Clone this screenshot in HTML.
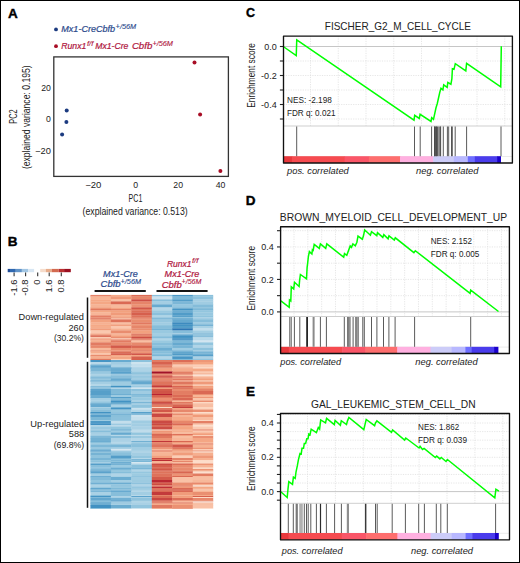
<!DOCTYPE html>
<html><head><meta charset="utf-8"><title>Figure</title>
<style>
html,body{margin:0;padding:0;background:#fff;}
body{width:520px;height:563px;overflow:hidden;}
svg{display:block;font-family:"Liberation Sans", sans-serif;}
</style></head>
<body>
<svg width="520" height="563" viewBox="0 0 520 563">
<rect x="0" y="0" width="520" height="563" fill="#fff"/>
<text x="8.00" y="17.80" font-size="13.5" fill="#000" font-weight="bold" stroke="#000" stroke-width="0.4">A</text>
<circle cx="56" cy="29.4" r="1.9" fill="#1c3b80"/>
<text x="61.30" y="31.90" font-size="9" fill="#2c4a8c" font-style="italic" textLength="53.80" lengthAdjust="spacingAndGlyphs" stroke="#2c4a8c" stroke-width="0.22">Mx1-CreCbfb</text>
<text x="115.60" y="29.00" font-size="6.6" fill="#2c4a8c" font-style="italic" textLength="20.60" lengthAdjust="spacingAndGlyphs" stroke="#2c4a8c" stroke-width="0.12">+/56M</text>
<circle cx="56" cy="46.2" r="1.9" fill="#a80d25"/>
<text x="61.30" y="48.80" font-size="9" fill="#b0183f" font-style="italic" textLength="25.00" lengthAdjust="spacingAndGlyphs" stroke="#b0183f" stroke-width="0.22">Runx1</text>
<text x="86.90" y="45.60" font-size="6.8" fill="#b0183f" font-style="italic" textLength="6.40" lengthAdjust="spacingAndGlyphs" stroke="#b0183f" stroke-width="0.12">f/f</text>
<text x="95.20" y="48.80" font-size="9" fill="#b0183f" font-style="italic" textLength="33.20" lengthAdjust="spacingAndGlyphs" stroke="#b0183f" stroke-width="0.22">Mx1-Cre</text>
<text x="131.90" y="48.80" font-size="9" fill="#b0183f" font-style="italic" textLength="20.40" lengthAdjust="spacingAndGlyphs" stroke="#b0183f" stroke-width="0.22">Cbfb</text>
<text x="152.40" y="45.70" font-size="6.6" fill="#b0183f" font-style="italic" textLength="20.60" lengthAdjust="spacingAndGlyphs" stroke="#b0183f" stroke-width="0.12">+/56M</text>
<rect x="53.8" y="56.9" width="174.6" height="119.5" fill="none" stroke="#333" stroke-width="1.3"/>
<text x="50.90" y="90.80" font-size="8.7" fill="#222" text-anchor="end">20</text>
<text x="50.90" y="122.20" font-size="8.7" fill="#222" text-anchor="end">0</text>
<text x="50.90" y="153.90" font-size="8.7" fill="#222" text-anchor="end" textLength="15.80" lengthAdjust="spacingAndGlyphs">−20</text>
<text x="93.30" y="187.80" font-size="8.7" fill="#222" text-anchor="middle" textLength="16.20" lengthAdjust="spacingAndGlyphs">−20</text>
<text x="135.60" y="187.80" font-size="8.7" fill="#222" text-anchor="middle">0</text>
<text x="178.20" y="187.80" font-size="8.7" fill="#222" text-anchor="middle">20</text>
<text x="220.50" y="187.80" font-size="8.7" fill="#222" text-anchor="middle">40</text>
<text x="128.60" y="202.20" font-size="10.6" fill="#222" textLength="13.70" lengthAdjust="spacingAndGlyphs">PC1</text>
<text x="82.60" y="215.00" font-size="10.4" fill="#222" textLength="105.10" lengthAdjust="spacingAndGlyphs">(explained variance: 0.513)</text>
<text x="16.80" y="123.70" font-size="10.6" fill="#222" textLength="14.30" lengthAdjust="spacingAndGlyphs" transform="rotate(-90 16.80 123.70)">PC2</text>
<text x="29.80" y="169.10" font-size="10.6" fill="#222" textLength="103.70" lengthAdjust="spacingAndGlyphs" transform="rotate(-90 29.80 169.10)">(explained variance: 0.195)</text>
<circle cx="66.7" cy="110.6" r="2.0" fill="#1c3b80"/>
<circle cx="66.4" cy="121.9" r="2.0" fill="#1c3b80"/>
<circle cx="62.1" cy="134.6" r="2.0" fill="#1c3b80"/>
<circle cx="194.5" cy="62.5" r="2.0" fill="#a80d25"/>
<circle cx="200.1" cy="114.6" r="2.0" fill="#a80d25"/>
<circle cx="220.4" cy="171.1" r="2.0" fill="#a80d25"/>
<text x="7.70" y="246.00" font-size="13.5" fill="#000" font-weight="bold" stroke="#000" stroke-width="0.4">B</text>
<rect x="7.70" y="268.90" width="2.30" height="3.30" fill="#1f4c98" />
<rect x="10.00" y="268.90" width="5.80" height="3.30" fill="#2f68b0" />
<rect x="15.80" y="268.90" width="6.10" height="3.30" fill="#6093c8" />
<rect x="21.90" y="268.90" width="6.20" height="3.30" fill="#a2c6e3" />
<rect x="28.10" y="268.90" width="6.00" height="3.30" fill="#d7e6f3" />
<rect x="40.20" y="268.90" width="5.60" height="3.30" fill="#f6dccb" />
<rect x="45.80" y="268.90" width="6.00" height="3.30" fill="#e8ad8c" />
<rect x="51.80" y="268.90" width="6.90" height="3.30" fill="#d36a50" />
<rect x="58.70" y="268.90" width="5.40" height="3.30" fill="#bb3030" />
<rect x="64.10" y="268.90" width="6.70" height="3.30" fill="#9b0f20" />
<line x1="14.10" y1="272.40" x2="14.10" y2="276.20" stroke="#333" stroke-width="1.1" />
<line x1="25.60" y1="272.40" x2="25.60" y2="276.20" stroke="#333" stroke-width="1.1" />
<line x1="37.70" y1="272.40" x2="37.70" y2="276.20" stroke="#333" stroke-width="1.1" />
<line x1="49.20" y1="272.40" x2="49.20" y2="276.20" stroke="#333" stroke-width="1.1" />
<line x1="61.30" y1="272.40" x2="61.30" y2="276.20" stroke="#333" stroke-width="1.1" />
<text x="16.80" y="279.50" font-size="9.4" fill="#222" text-anchor="end" transform="rotate(-90 16.80 279.50)">-1.6</text>
<text x="28.30" y="279.50" font-size="9.4" fill="#222" text-anchor="end" transform="rotate(-90 28.30 279.50)">-0.8</text>
<text x="40.40" y="279.50" font-size="9.4" fill="#222" text-anchor="end" transform="rotate(-90 40.40 279.50)">0</text>
<text x="51.90" y="279.50" font-size="9.4" fill="#222" text-anchor="end" transform="rotate(-90 51.90 279.50)">1.6</text>
<text x="64.00" y="279.50" font-size="9.4" fill="#222" text-anchor="end" transform="rotate(-90 64.00 279.50)">0.8</text>
<text x="103.10" y="277.10" font-size="9" fill="#2c4a8c" font-style="italic" textLength="34.80" lengthAdjust="spacingAndGlyphs" stroke="#2c4a8c" stroke-width="0.22">Mx1-Cre</text>
<text x="100.60" y="287.20" font-size="9" fill="#2c4a8c" font-style="italic" textLength="20.00" lengthAdjust="spacingAndGlyphs" stroke="#2c4a8c" stroke-width="0.22">Cbfb</text>
<text x="120.60" y="283.90" font-size="6.6" fill="#2c4a8c" font-style="italic" textLength="20.40" lengthAdjust="spacingAndGlyphs" stroke="#2c4a8c" stroke-width="0.12">+/56M</text>
<text x="166.90" y="266.70" font-size="9" fill="#b0183f" font-style="italic" textLength="24.60" lengthAdjust="spacingAndGlyphs" stroke="#b0183f" stroke-width="0.22">Runx1</text>
<text x="191.90" y="263.00" font-size="6.9" fill="#b0183f" font-style="italic" textLength="6.60" lengthAdjust="spacingAndGlyphs" stroke="#b0183f" stroke-width="0.12">f/f</text>
<text x="164.60" y="277.10" font-size="9" fill="#b0183f" font-style="italic" textLength="34.80" lengthAdjust="spacingAndGlyphs" stroke="#b0183f" stroke-width="0.22">Mx1-Cre</text>
<text x="161.70" y="287.50" font-size="9" fill="#b0183f" font-style="italic" textLength="20.00" lengthAdjust="spacingAndGlyphs" stroke="#b0183f" stroke-width="0.22">Cbfb</text>
<text x="181.60" y="284.20" font-size="6.6" fill="#b0183f" font-style="italic" textLength="19.80" lengthAdjust="spacingAndGlyphs" stroke="#b0183f" stroke-width="0.12">+/56M</text>
<line x1="94.60" y1="291.00" x2="145.80" y2="291.00" stroke="#151515" stroke-width="1.8" />
<line x1="156.50" y1="291.00" x2="207.60" y2="291.00" stroke="#151515" stroke-width="1.8" />
<text x="83.90" y="319.80" font-size="9.25" fill="#222" text-anchor="end" textLength="65.30" lengthAdjust="spacingAndGlyphs">Down-regulated</text>
<text x="83.90" y="330.50" font-size="9.25" fill="#222" text-anchor="end">260</text>
<text x="83.90" y="340.80" font-size="9.25" fill="#222" text-anchor="end" textLength="30.00" lengthAdjust="spacingAndGlyphs">(30.2%)</text>
<text x="84.20" y="427.10" font-size="9.25" fill="#222" text-anchor="end" textLength="53.90" lengthAdjust="spacingAndGlyphs">Up-regulated</text>
<text x="84.20" y="437.40" font-size="9.25" fill="#222" text-anchor="end">588</text>
<text x="84.20" y="448.00" font-size="9.25" fill="#222" text-anchor="end" textLength="30.50" lengthAdjust="spacingAndGlyphs">(69.8%)</text>
<line x1="87.50" y1="297.50" x2="87.50" y2="357.80" stroke="#111" stroke-width="1.5" />
<line x1="87.50" y1="361.80" x2="87.50" y2="507.80" stroke="#111" stroke-width="1.5" />
<rect x="90.40" y="294.90" width="20.77" height="1.80" fill="#e58167" />
<rect x="110.87" y="294.90" width="20.77" height="1.80" fill="#f5a886" />
<rect x="131.33" y="294.90" width="20.77" height="1.80" fill="#db6b55" />
<rect x="151.80" y="294.90" width="20.77" height="1.80" fill="#8cc1dc" />
<rect x="172.27" y="294.90" width="20.77" height="1.80" fill="#4b98c6" />
<rect x="192.73" y="294.90" width="20.47" height="1.80" fill="#8cc1dc" />
<rect x="90.40" y="296.40" width="20.77" height="3.30" fill="#f7b596" />
<rect x="110.87" y="296.40" width="20.77" height="3.30" fill="#ef9979" />
<rect x="131.33" y="296.40" width="20.77" height="3.30" fill="#e7876b" />
<rect x="151.80" y="296.40" width="20.77" height="3.30" fill="#cce2ef" />
<rect x="172.27" y="296.40" width="20.77" height="3.30" fill="#7db8d7" />
<rect x="192.73" y="296.40" width="20.47" height="3.30" fill="#8ec2dd" />
<rect x="90.40" y="299.40" width="20.77" height="2.30" fill="#f5a886" />
<rect x="110.87" y="299.40" width="20.77" height="2.30" fill="#f8c0a4" />
<rect x="131.33" y="299.40" width="20.77" height="2.30" fill="#cd4f45" />
<rect x="151.80" y="299.40" width="20.77" height="2.30" fill="#87beda" />
<rect x="172.27" y="299.40" width="20.77" height="2.30" fill="#539dc8" />
<rect x="192.73" y="299.40" width="20.47" height="2.30" fill="#a4cee3" />
<rect x="90.40" y="301.40" width="20.77" height="3.30" fill="#f4a785" />
<rect x="110.87" y="301.40" width="20.77" height="3.30" fill="#da6954" />
<rect x="131.33" y="301.40" width="20.77" height="3.30" fill="#e68469" />
<rect x="151.80" y="301.40" width="20.77" height="3.30" fill="#a4cee3" />
<rect x="172.27" y="301.40" width="20.77" height="3.30" fill="#7cb7d7" />
<rect x="192.73" y="301.40" width="20.47" height="3.30" fill="#a0cce2" />
<rect x="90.40" y="304.40" width="20.77" height="3.30" fill="#f6b394" />
<rect x="110.87" y="304.40" width="20.77" height="3.30" fill="#f7b99c" />
<rect x="131.33" y="304.40" width="20.77" height="3.30" fill="#eb9173" />
<rect x="151.80" y="304.40" width="20.77" height="3.30" fill="#67aacf" />
<rect x="172.27" y="304.40" width="20.77" height="3.30" fill="#94c6df" />
<rect x="192.73" y="304.40" width="20.47" height="3.30" fill="#84bcd9" />
<rect x="90.40" y="307.40" width="20.77" height="1.80" fill="#ef9979" />
<rect x="110.87" y="307.40" width="20.77" height="1.80" fill="#f5aa88" />
<rect x="131.33" y="307.40" width="20.77" height="1.80" fill="#d05447" />
<rect x="151.80" y="307.40" width="20.77" height="1.80" fill="#b6d7e8" />
<rect x="172.27" y="307.40" width="20.77" height="1.80" fill="#76b3d4" />
<rect x="192.73" y="307.40" width="20.47" height="1.80" fill="#89bfdb" />
<rect x="90.40" y="308.90" width="20.77" height="1.80" fill="#e0785f" />
<rect x="110.87" y="308.90" width="20.77" height="1.80" fill="#e58368" />
<rect x="131.33" y="308.90" width="20.77" height="1.80" fill="#e0765e" />
<rect x="151.80" y="308.90" width="20.77" height="1.80" fill="#b3d6e7" />
<rect x="172.27" y="308.90" width="20.77" height="1.80" fill="#4594c4" />
<rect x="192.73" y="308.90" width="20.47" height="1.80" fill="#7db8d7" />
<rect x="90.40" y="310.40" width="20.77" height="2.30" fill="#f4a885" />
<rect x="110.87" y="310.40" width="20.77" height="2.30" fill="#f2a27f" />
<rect x="131.33" y="310.40" width="20.77" height="2.30" fill="#dc6d57" />
<rect x="151.80" y="310.40" width="20.77" height="2.30" fill="#9ac9e0" />
<rect x="172.27" y="310.40" width="20.77" height="2.30" fill="#6bacd1" />
<rect x="192.73" y="310.40" width="20.47" height="2.30" fill="#93c6de" />
<rect x="90.40" y="312.40" width="20.77" height="3.30" fill="#f7b597" />
<rect x="110.87" y="312.40" width="20.77" height="3.30" fill="#f09b7a" />
<rect x="131.33" y="312.40" width="20.77" height="3.30" fill="#d65f4d" />
<rect x="151.80" y="312.40" width="20.77" height="3.30" fill="#8bc0dc" />
<rect x="172.27" y="312.40" width="20.77" height="3.30" fill="#519cc8" />
<rect x="192.73" y="312.40" width="20.47" height="3.30" fill="#98c8e0" />
<rect x="90.40" y="315.40" width="20.77" height="2.30" fill="#e47f65" />
<rect x="110.87" y="315.40" width="20.77" height="2.30" fill="#f5ad8c" />
<rect x="131.33" y="315.40" width="20.77" height="2.30" fill="#de725b" />
<rect x="151.80" y="315.40" width="20.77" height="2.30" fill="#afd4e6" />
<rect x="172.27" y="315.40" width="20.77" height="2.30" fill="#59a1ca" />
<rect x="192.73" y="315.40" width="20.47" height="2.30" fill="#8fc3dd" />
<rect x="90.40" y="317.40" width="20.77" height="1.30" fill="#e98d6f" />
<rect x="110.87" y="317.40" width="20.77" height="1.30" fill="#ea8e70" />
<rect x="131.33" y="317.40" width="20.77" height="1.30" fill="#df745c" />
<rect x="151.80" y="317.40" width="20.77" height="1.30" fill="#83bcd9" />
<rect x="172.27" y="317.40" width="20.77" height="1.30" fill="#95c7df" />
<rect x="192.73" y="317.40" width="20.47" height="1.30" fill="#abd2e5" />
<rect x="90.40" y="318.40" width="20.77" height="1.30" fill="#d96752" />
<rect x="110.87" y="318.40" width="20.77" height="1.30" fill="#f9c3a9" />
<rect x="131.33" y="318.40" width="20.77" height="1.30" fill="#e6866a" />
<rect x="151.80" y="318.40" width="20.77" height="1.30" fill="#6dadd1" />
<rect x="172.27" y="318.40" width="20.77" height="1.30" fill="#4b98c6" />
<rect x="192.73" y="318.40" width="20.47" height="1.30" fill="#8bc1dc" />
<rect x="90.40" y="319.40" width="20.77" height="3.30" fill="#f2a17f" />
<rect x="110.87" y="319.40" width="20.77" height="3.30" fill="#de735b" />
<rect x="131.33" y="319.40" width="20.77" height="3.30" fill="#e98d6f" />
<rect x="151.80" y="319.40" width="20.77" height="3.30" fill="#97c7df" />
<rect x="172.27" y="319.40" width="20.77" height="3.30" fill="#65a9cf" />
<rect x="192.73" y="319.40" width="20.47" height="3.30" fill="#86bdda" />
<rect x="90.40" y="322.40" width="20.77" height="2.30" fill="#f6b091" />
<rect x="110.87" y="322.40" width="20.77" height="2.30" fill="#f8bea2" />
<rect x="131.33" y="322.40" width="20.77" height="2.30" fill="#e17960" />
<rect x="151.80" y="322.40" width="20.77" height="2.30" fill="#a0cce2" />
<rect x="172.27" y="322.40" width="20.77" height="2.30" fill="#3d8bbf" />
<rect x="192.73" y="322.40" width="20.47" height="2.30" fill="#9ccae1" />
<rect x="90.40" y="324.40" width="20.77" height="1.80" fill="#f5a987" />
<rect x="110.87" y="324.40" width="20.77" height="1.80" fill="#f09c7b" />
<rect x="131.33" y="324.40" width="20.77" height="1.80" fill="#ed9576" />
<rect x="151.80" y="324.40" width="20.77" height="1.80" fill="#94c6de" />
<rect x="172.27" y="324.40" width="20.77" height="1.80" fill="#4292c2" />
<rect x="192.73" y="324.40" width="20.47" height="1.80" fill="#71b0d3" />
<rect x="90.40" y="325.90" width="20.77" height="2.80" fill="#f5ad8c" />
<rect x="110.87" y="325.90" width="20.77" height="2.80" fill="#fac7ae" />
<rect x="131.33" y="325.90" width="20.77" height="2.80" fill="#e6866a" />
<rect x="151.80" y="325.90" width="20.77" height="2.80" fill="#87beda" />
<rect x="172.27" y="325.90" width="20.77" height="2.80" fill="#539dc8" />
<rect x="192.73" y="325.90" width="20.47" height="2.80" fill="#a7d0e4" />
<rect x="90.40" y="328.40" width="20.77" height="2.30" fill="#f19d7c" />
<rect x="110.87" y="328.40" width="20.77" height="2.30" fill="#f6b292" />
<rect x="131.33" y="328.40" width="20.77" height="2.30" fill="#e98d6f" />
<rect x="151.80" y="328.40" width="20.77" height="2.30" fill="#75b3d4" />
<rect x="172.27" y="328.40" width="20.77" height="2.30" fill="#2d76b4" />
<rect x="192.73" y="328.40" width="20.47" height="2.30" fill="#c2ddec" />
<rect x="90.40" y="330.40" width="20.77" height="3.30" fill="#fac8af" />
<rect x="110.87" y="330.40" width="20.77" height="3.30" fill="#e98d6f" />
<rect x="131.33" y="330.40" width="20.77" height="3.30" fill="#f2a17f" />
<rect x="151.80" y="330.40" width="20.77" height="3.30" fill="#99c9e0" />
<rect x="172.27" y="330.40" width="20.77" height="3.30" fill="#86bdda" />
<rect x="192.73" y="330.40" width="20.47" height="3.30" fill="#a2cde2" />
<rect x="90.40" y="333.40" width="20.77" height="1.30" fill="#f5aa88" />
<rect x="110.87" y="333.40" width="20.77" height="1.30" fill="#f7b698" />
<rect x="131.33" y="333.40" width="20.77" height="1.30" fill="#e98b6e" />
<rect x="151.80" y="333.40" width="20.77" height="1.30" fill="#99c8e0" />
<rect x="172.27" y="333.40" width="20.77" height="1.30" fill="#a8d0e4" />
<rect x="192.73" y="333.40" width="20.47" height="1.30" fill="#78b4d5" />
<rect x="90.40" y="334.40" width="20.77" height="1.30" fill="#ed9475" />
<rect x="110.87" y="334.40" width="20.77" height="1.30" fill="#f5a886" />
<rect x="131.33" y="334.40" width="20.77" height="1.30" fill="#d6614d" />
<rect x="151.80" y="334.40" width="20.77" height="1.30" fill="#96c7df" />
<rect x="172.27" y="334.40" width="20.77" height="1.30" fill="#5da4cc" />
<rect x="192.73" y="334.40" width="20.47" height="1.30" fill="#8dc2dc" />
<rect x="90.40" y="335.40" width="20.77" height="1.80" fill="#da6954" />
<rect x="110.87" y="335.40" width="20.77" height="1.80" fill="#f3a27f" />
<rect x="131.33" y="335.40" width="20.77" height="1.80" fill="#e58368" />
<rect x="151.80" y="335.40" width="20.77" height="1.80" fill="#95c7df" />
<rect x="172.27" y="335.40" width="20.77" height="1.80" fill="#4292c3" />
<rect x="192.73" y="335.40" width="20.47" height="1.80" fill="#84bcd9" />
<rect x="90.40" y="336.90" width="20.77" height="1.80" fill="#facab2" />
<rect x="110.87" y="336.90" width="20.77" height="1.80" fill="#ea8e71" />
<rect x="131.33" y="336.90" width="20.77" height="1.80" fill="#cd4f45" />
<rect x="151.80" y="336.90" width="20.77" height="1.80" fill="#86bdda" />
<rect x="172.27" y="336.90" width="20.77" height="1.80" fill="#4997c5" />
<rect x="192.73" y="336.90" width="20.47" height="1.80" fill="#b6d7e8" />
<rect x="90.40" y="338.40" width="20.77" height="1.30" fill="#f09c7b" />
<rect x="110.87" y="338.40" width="20.77" height="1.30" fill="#fbd0b9" />
<rect x="131.33" y="338.40" width="20.77" height="1.30" fill="#e17a61" />
<rect x="151.80" y="338.40" width="20.77" height="1.30" fill="#a9d1e5" />
<rect x="172.27" y="338.40" width="20.77" height="1.30" fill="#3e8cbf" />
<rect x="192.73" y="338.40" width="20.47" height="1.30" fill="#afd4e6" />
<rect x="90.40" y="339.40" width="20.77" height="1.30" fill="#f09c7b" />
<rect x="110.87" y="339.40" width="20.77" height="1.30" fill="#e68469" />
<rect x="131.33" y="339.40" width="20.77" height="1.30" fill="#e37f65" />
<rect x="151.80" y="339.40" width="20.77" height="1.30" fill="#a5cfe3" />
<rect x="172.27" y="339.40" width="20.77" height="1.30" fill="#3f8ec0" />
<rect x="192.73" y="339.40" width="20.47" height="1.30" fill="#aed3e6" />
<rect x="90.40" y="340.40" width="20.77" height="2.30" fill="#f5ae8d" />
<rect x="110.87" y="340.40" width="20.77" height="2.30" fill="#e27b62" />
<rect x="131.33" y="340.40" width="20.77" height="2.30" fill="#f8bfa3" />
<rect x="151.80" y="340.40" width="20.77" height="2.30" fill="#99c9e0" />
<rect x="172.27" y="340.40" width="20.77" height="2.30" fill="#7db8d7" />
<rect x="192.73" y="340.40" width="20.47" height="2.30" fill="#d2e5f0" />
<rect x="90.40" y="342.40" width="20.77" height="3.30" fill="#e27b62" />
<rect x="110.87" y="342.40" width="20.77" height="3.30" fill="#e98c6f" />
<rect x="131.33" y="342.40" width="20.77" height="3.30" fill="#e7886c" />
<rect x="151.80" y="342.40" width="20.77" height="3.30" fill="#87beda" />
<rect x="172.27" y="342.40" width="20.77" height="3.30" fill="#66a9cf" />
<rect x="192.73" y="342.40" width="20.47" height="3.30" fill="#92c5de" />
<rect x="90.40" y="345.40" width="20.77" height="2.80" fill="#e7876b" />
<rect x="110.87" y="345.40" width="20.77" height="2.80" fill="#d35a4a" />
<rect x="131.33" y="345.40" width="20.77" height="2.80" fill="#d96652" />
<rect x="151.80" y="345.40" width="20.77" height="2.80" fill="#8cc1dc" />
<rect x="172.27" y="345.40" width="20.77" height="2.80" fill="#77b4d5" />
<rect x="192.73" y="345.40" width="20.47" height="2.80" fill="#b0d4e7" />
<rect x="90.40" y="347.90" width="20.77" height="2.80" fill="#f7ba9c" />
<rect x="110.87" y="347.90" width="20.77" height="2.80" fill="#e88a6d" />
<rect x="131.33" y="347.90" width="20.77" height="2.80" fill="#ea8f71" />
<rect x="151.80" y="347.90" width="20.77" height="2.80" fill="#6cadd1" />
<rect x="172.27" y="347.90" width="20.77" height="2.80" fill="#a0cce2" />
<rect x="192.73" y="347.90" width="20.47" height="2.80" fill="#8dc2dc" />
<rect x="90.40" y="350.40" width="20.77" height="1.30" fill="#e7866a" />
<rect x="110.87" y="350.40" width="20.77" height="1.30" fill="#ee9777" />
<rect x="131.33" y="350.40" width="20.77" height="1.30" fill="#dd7059" />
<rect x="151.80" y="350.40" width="20.77" height="1.30" fill="#6badd1" />
<rect x="172.27" y="350.40" width="20.77" height="1.30" fill="#71b0d3" />
<rect x="192.73" y="350.40" width="20.47" height="1.30" fill="#9fcbe2" />
<rect x="90.40" y="351.40" width="20.77" height="2.30" fill="#f5ae8d" />
<rect x="110.87" y="351.40" width="20.77" height="2.30" fill="#db6d57" />
<rect x="131.33" y="351.40" width="20.77" height="2.30" fill="#ed9475" />
<rect x="151.80" y="351.40" width="20.77" height="2.30" fill="#86beda" />
<rect x="172.27" y="351.40" width="20.77" height="2.30" fill="#61a6cd" />
<rect x="192.73" y="351.40" width="20.47" height="2.30" fill="#77b4d5" />
<rect x="90.40" y="353.40" width="20.77" height="1.80" fill="#fac7ad" />
<rect x="110.87" y="353.40" width="20.77" height="1.80" fill="#d25849" />
<rect x="131.33" y="353.40" width="20.77" height="1.80" fill="#cd4e45" />
<rect x="151.80" y="353.40" width="20.77" height="1.80" fill="#8bc0dc" />
<rect x="172.27" y="353.40" width="20.77" height="1.80" fill="#4b98c6" />
<rect x="192.73" y="353.40" width="20.47" height="1.80" fill="#70afd2" />
<rect x="90.40" y="354.90" width="20.77" height="1.80" fill="#e98c6e" />
<rect x="110.87" y="354.90" width="20.77" height="1.80" fill="#f4a886" />
<rect x="131.33" y="354.90" width="20.77" height="1.80" fill="#f4a683" />
<rect x="151.80" y="354.90" width="20.77" height="1.80" fill="#7bb7d6" />
<rect x="172.27" y="354.90" width="20.77" height="1.80" fill="#82bbd9" />
<rect x="192.73" y="354.90" width="20.47" height="1.80" fill="#58a0ca" />
<rect x="90.40" y="356.40" width="20.77" height="2.80" fill="#f6ae8e" />
<rect x="110.87" y="356.40" width="20.77" height="2.80" fill="#f3a481" />
<rect x="131.33" y="356.40" width="20.77" height="2.80" fill="#d7614e" />
<rect x="151.80" y="356.40" width="20.77" height="2.80" fill="#b2d5e7" />
<rect x="172.27" y="356.40" width="20.77" height="2.80" fill="#4896c5" />
<rect x="192.73" y="356.40" width="20.47" height="2.80" fill="#aad1e5" />
<rect x="90.40" y="358.90" width="20.77" height="1.40" fill="#e0785f" />
<rect x="110.87" y="358.90" width="20.77" height="1.40" fill="#fbcfb8" />
<rect x="131.33" y="358.90" width="20.77" height="1.40" fill="#d6604d" />
<rect x="151.80" y="358.90" width="20.77" height="1.40" fill="#9ac9e0" />
<rect x="172.27" y="358.90" width="20.77" height="1.40" fill="#7fb9d7" />
<rect x="192.73" y="358.90" width="20.47" height="1.40" fill="#91c4de" />
<rect x="90.40" y="360.00" width="20.77" height="2.30" fill="#4795c4" />
<rect x="110.87" y="360.00" width="20.77" height="2.30" fill="#68abd0" />
<rect x="131.33" y="360.00" width="20.77" height="2.30" fill="#8dc2dc" />
<rect x="151.80" y="360.00" width="20.77" height="2.30" fill="#e27c63" />
<rect x="172.27" y="360.00" width="20.77" height="2.30" fill="#dc6d57" />
<rect x="192.73" y="360.00" width="20.47" height="2.30" fill="#ee9777" />
<rect x="90.40" y="362.00" width="20.77" height="2.80" fill="#b8d8e9" />
<rect x="110.87" y="362.00" width="20.77" height="2.80" fill="#a2cde3" />
<rect x="131.33" y="362.00" width="20.77" height="2.80" fill="#cee4ef" />
<rect x="151.80" y="362.00" width="20.77" height="2.80" fill="#d7624f" />
<rect x="172.27" y="362.00" width="20.77" height="2.80" fill="#ed9576" />
<rect x="192.73" y="362.00" width="20.47" height="2.80" fill="#f4a481" />
<rect x="90.40" y="364.50" width="20.77" height="1.30" fill="#6daed1" />
<rect x="110.87" y="364.50" width="20.77" height="1.30" fill="#9ccae1" />
<rect x="131.33" y="364.50" width="20.77" height="1.30" fill="#afd4e6" />
<rect x="151.80" y="364.50" width="20.77" height="1.30" fill="#de735c" />
<rect x="172.27" y="364.50" width="20.77" height="1.30" fill="#fac9b0" />
<rect x="192.73" y="364.50" width="20.47" height="1.30" fill="#fac9b0" />
<rect x="90.40" y="365.50" width="20.77" height="2.30" fill="#5ea4cc" />
<rect x="110.87" y="365.50" width="20.77" height="2.30" fill="#abd2e5" />
<rect x="131.33" y="365.50" width="20.77" height="2.30" fill="#c5dfed" />
<rect x="151.80" y="365.50" width="20.77" height="2.30" fill="#e27d63" />
<rect x="172.27" y="365.50" width="20.77" height="2.30" fill="#f9c6ac" />
<rect x="192.73" y="365.50" width="20.47" height="2.30" fill="#fbccb4" />
<rect x="90.40" y="367.50" width="20.77" height="1.30" fill="#5aa2cb" />
<rect x="110.87" y="367.50" width="20.77" height="1.30" fill="#519cc8" />
<rect x="131.33" y="367.50" width="20.77" height="1.30" fill="#98c8e0" />
<rect x="151.80" y="367.50" width="20.77" height="1.30" fill="#e8896c" />
<rect x="172.27" y="367.50" width="20.77" height="1.30" fill="#f2a17f" />
<rect x="192.73" y="367.50" width="20.47" height="1.30" fill="#fddcc8" />
<rect x="90.40" y="368.50" width="20.77" height="3.30" fill="#79b5d5" />
<rect x="110.87" y="368.50" width="20.77" height="3.30" fill="#69abd0" />
<rect x="131.33" y="368.50" width="20.77" height="3.30" fill="#add3e6" />
<rect x="151.80" y="368.50" width="20.77" height="3.30" fill="#f2a17f" />
<rect x="172.27" y="368.50" width="20.77" height="3.30" fill="#f5ac8b" />
<rect x="192.73" y="368.50" width="20.47" height="3.30" fill="#f4a885" />
<rect x="90.40" y="371.50" width="20.77" height="2.30" fill="#98c8e0" />
<rect x="110.87" y="371.50" width="20.77" height="2.30" fill="#59a1cb" />
<rect x="131.33" y="371.50" width="20.77" height="2.30" fill="#96c7df" />
<rect x="151.80" y="371.50" width="20.77" height="2.30" fill="#a11328" />
<rect x="172.27" y="371.50" width="20.77" height="2.30" fill="#e37f65" />
<rect x="192.73" y="371.50" width="20.47" height="2.30" fill="#facab1" />
<rect x="90.40" y="373.50" width="20.77" height="1.30" fill="#8bc1dc" />
<rect x="110.87" y="373.50" width="20.77" height="1.30" fill="#65a9cf" />
<rect x="131.33" y="373.50" width="20.77" height="1.30" fill="#75b3d4" />
<rect x="151.80" y="373.50" width="20.77" height="1.30" fill="#da6954" />
<rect x="172.27" y="373.50" width="20.77" height="1.30" fill="#dc6e58" />
<rect x="192.73" y="373.50" width="20.47" height="1.30" fill="#f2a17f" />
<rect x="90.40" y="374.50" width="20.77" height="1.30" fill="#bad9e9" />
<rect x="110.87" y="374.50" width="20.77" height="1.30" fill="#b8d9e9" />
<rect x="131.33" y="374.50" width="20.77" height="1.30" fill="#aed3e6" />
<rect x="151.80" y="374.50" width="20.77" height="1.30" fill="#ef9a79" />
<rect x="172.27" y="374.50" width="20.77" height="1.30" fill="#f5ac8b" />
<rect x="192.73" y="374.50" width="20.47" height="1.30" fill="#faebe2" />
<rect x="90.40" y="375.50" width="20.77" height="1.30" fill="#8cc1dc" />
<rect x="110.87" y="375.50" width="20.77" height="1.30" fill="#69abd0" />
<rect x="131.33" y="375.50" width="20.77" height="1.30" fill="#8bc0dc" />
<rect x="151.80" y="375.50" width="20.77" height="1.30" fill="#cb4b43" />
<rect x="172.27" y="375.50" width="20.77" height="1.30" fill="#f8bda0" />
<rect x="192.73" y="375.50" width="20.47" height="1.30" fill="#fcd5c0" />
<rect x="90.40" y="376.50" width="20.77" height="1.30" fill="#8ec3dd" />
<rect x="110.87" y="376.50" width="20.77" height="1.30" fill="#8cc1dc" />
<rect x="131.33" y="376.50" width="20.77" height="1.30" fill="#8ec2dc" />
<rect x="151.80" y="376.50" width="20.77" height="1.30" fill="#cf5246" />
<rect x="172.27" y="376.50" width="20.77" height="1.30" fill="#cd4e45" />
<rect x="192.73" y="376.50" width="20.47" height="1.30" fill="#f6af8f" />
<rect x="90.40" y="377.50" width="20.77" height="1.30" fill="#67aacf" />
<rect x="110.87" y="377.50" width="20.77" height="1.30" fill="#73b1d3" />
<rect x="131.33" y="377.50" width="20.77" height="1.30" fill="#8fc3dd" />
<rect x="151.80" y="377.50" width="20.77" height="1.30" fill="#dd7059" />
<rect x="172.27" y="377.50" width="20.77" height="1.30" fill="#f3a280" />
<rect x="192.73" y="377.50" width="20.47" height="1.30" fill="#f5a886" />
<rect x="90.40" y="378.50" width="20.77" height="2.30" fill="#97c7df" />
<rect x="110.87" y="378.50" width="20.77" height="2.30" fill="#68aacf" />
<rect x="131.33" y="378.50" width="20.77" height="2.30" fill="#9fcbe2" />
<rect x="151.80" y="378.50" width="20.77" height="2.30" fill="#e8896d" />
<rect x="172.27" y="378.50" width="20.77" height="2.30" fill="#e17860" />
<rect x="192.73" y="378.50" width="20.47" height="2.30" fill="#f2a07e" />
<rect x="90.40" y="380.50" width="20.77" height="1.30" fill="#5aa2cb" />
<rect x="110.87" y="380.50" width="20.77" height="1.30" fill="#60a5cd" />
<rect x="131.33" y="380.50" width="20.77" height="1.30" fill="#60a5cd" />
<rect x="151.80" y="380.50" width="20.77" height="1.30" fill="#dc6f58" />
<rect x="172.27" y="380.50" width="20.77" height="1.30" fill="#f7ba9d" />
<rect x="192.73" y="380.50" width="20.47" height="1.30" fill="#fbcfb8" />
<rect x="90.40" y="381.50" width="20.77" height="3.30" fill="#a4cee3" />
<rect x="110.87" y="381.50" width="20.77" height="3.30" fill="#9ecbe1" />
<rect x="131.33" y="381.50" width="20.77" height="3.30" fill="#64a8ce" />
<rect x="151.80" y="381.50" width="20.77" height="3.30" fill="#df745c" />
<rect x="172.27" y="381.50" width="20.77" height="3.30" fill="#df765e" />
<rect x="192.73" y="381.50" width="20.47" height="3.30" fill="#ef9979" />
<rect x="90.40" y="384.50" width="20.77" height="1.80" fill="#b4d7e8" />
<rect x="110.87" y="384.50" width="20.77" height="1.80" fill="#8fc3dd" />
<rect x="131.33" y="384.50" width="20.77" height="1.80" fill="#aad1e5" />
<rect x="151.80" y="384.50" width="20.77" height="1.80" fill="#d45c4b" />
<rect x="172.27" y="384.50" width="20.77" height="1.80" fill="#f09c7b" />
<rect x="192.73" y="384.50" width="20.47" height="1.80" fill="#facab1" />
<rect x="90.40" y="386.00" width="20.77" height="1.80" fill="#84bcd9" />
<rect x="110.87" y="386.00" width="20.77" height="1.80" fill="#4292c2" />
<rect x="131.33" y="386.00" width="20.77" height="1.80" fill="#9ac9e0" />
<rect x="151.80" y="386.00" width="20.77" height="1.80" fill="#c33b3b" />
<rect x="172.27" y="386.00" width="20.77" height="1.80" fill="#d86551" />
<rect x="192.73" y="386.00" width="20.47" height="1.80" fill="#f2a07e" />
<rect x="90.40" y="387.50" width="20.77" height="1.80" fill="#8ec2dd" />
<rect x="110.87" y="387.50" width="20.77" height="1.80" fill="#b2d5e7" />
<rect x="131.33" y="387.50" width="20.77" height="1.80" fill="#cfe4ef" />
<rect x="151.80" y="387.50" width="20.77" height="1.80" fill="#f09d7c" />
<rect x="172.27" y="387.50" width="20.77" height="1.80" fill="#e0775f" />
<rect x="192.73" y="387.50" width="20.47" height="1.80" fill="#ee9777" />
<rect x="90.40" y="389.00" width="20.77" height="2.30" fill="#5da3cc" />
<rect x="110.87" y="389.00" width="20.77" height="2.30" fill="#81bad8" />
<rect x="131.33" y="389.00" width="20.77" height="2.30" fill="#8cc1dc" />
<rect x="151.80" y="389.00" width="20.77" height="2.30" fill="#d35b4a" />
<rect x="172.27" y="389.00" width="20.77" height="2.30" fill="#e98c6f" />
<rect x="192.73" y="389.00" width="20.47" height="2.30" fill="#e58368" />
<rect x="90.40" y="391.00" width="20.77" height="3.30" fill="#569fc9" />
<rect x="110.87" y="391.00" width="20.77" height="3.30" fill="#82bbd8" />
<rect x="131.33" y="391.00" width="20.77" height="3.30" fill="#a0cce2" />
<rect x="151.80" y="391.00" width="20.77" height="3.30" fill="#d05447" />
<rect x="172.27" y="391.00" width="20.77" height="3.30" fill="#e37d63" />
<rect x="192.73" y="391.00" width="20.47" height="3.30" fill="#da6954" />
<rect x="90.40" y="394.00" width="20.77" height="1.30" fill="#569fca" />
<rect x="110.87" y="394.00" width="20.77" height="1.30" fill="#6fafd2" />
<rect x="131.33" y="394.00" width="20.77" height="1.30" fill="#7fb9d8" />
<rect x="151.80" y="394.00" width="20.77" height="1.30" fill="#b82431" />
<rect x="172.27" y="394.00" width="20.77" height="1.30" fill="#e48065" />
<rect x="192.73" y="394.00" width="20.47" height="1.30" fill="#eb9072" />
<rect x="90.40" y="395.00" width="20.77" height="2.30" fill="#6cadd1" />
<rect x="110.87" y="395.00" width="20.77" height="2.30" fill="#9dcbe1" />
<rect x="131.33" y="395.00" width="20.77" height="2.30" fill="#8ac0db" />
<rect x="151.80" y="395.00" width="20.77" height="2.30" fill="#d7634f" />
<rect x="172.27" y="395.00" width="20.77" height="2.30" fill="#db6b55" />
<rect x="192.73" y="395.00" width="20.47" height="2.30" fill="#f7b697" />
<rect x="90.40" y="397.00" width="20.77" height="1.30" fill="#6aacd0" />
<rect x="110.87" y="397.00" width="20.77" height="1.30" fill="#539dc8" />
<rect x="131.33" y="397.00" width="20.77" height="1.30" fill="#a1cde2" />
<rect x="151.80" y="397.00" width="20.77" height="1.30" fill="#e17860" />
<rect x="172.27" y="397.00" width="20.77" height="1.30" fill="#e58267" />
<rect x="192.73" y="397.00" width="20.47" height="1.30" fill="#ee9777" />
<rect x="90.40" y="398.00" width="20.77" height="2.80" fill="#a4cee3" />
<rect x="110.87" y="398.00" width="20.77" height="2.80" fill="#80bad8" />
<rect x="131.33" y="398.00" width="20.77" height="2.80" fill="#99c9e0" />
<rect x="151.80" y="398.00" width="20.77" height="2.80" fill="#eb8f71" />
<rect x="172.27" y="398.00" width="20.77" height="2.80" fill="#d96652" />
<rect x="192.73" y="398.00" width="20.47" height="2.80" fill="#f9c5ab" />
<rect x="90.40" y="400.50" width="20.77" height="1.80" fill="#a1cde2" />
<rect x="110.87" y="400.50" width="20.77" height="1.80" fill="#4292c3" />
<rect x="131.33" y="400.50" width="20.77" height="1.80" fill="#a8d0e4" />
<rect x="151.80" y="400.50" width="20.77" height="1.80" fill="#dd715a" />
<rect x="172.27" y="400.50" width="20.77" height="1.80" fill="#f7b799" />
<rect x="192.73" y="400.50" width="20.47" height="1.80" fill="#ea8d70" />
<rect x="90.40" y="402.00" width="20.77" height="1.80" fill="#94c6df" />
<rect x="110.87" y="402.00" width="20.77" height="1.80" fill="#5fa5cc" />
<rect x="131.33" y="402.00" width="20.77" height="1.80" fill="#7bb6d6" />
<rect x="151.80" y="402.00" width="20.77" height="1.80" fill="#cc4d44" />
<rect x="172.27" y="402.00" width="20.77" height="1.80" fill="#e17960" />
<rect x="192.73" y="402.00" width="20.47" height="1.80" fill="#fdd9c4" />
<rect x="90.40" y="403.50" width="20.77" height="1.30" fill="#4d99c6" />
<rect x="110.87" y="403.50" width="20.77" height="1.30" fill="#5da4cc" />
<rect x="131.33" y="403.50" width="20.77" height="1.30" fill="#add3e6" />
<rect x="151.80" y="403.50" width="20.77" height="1.30" fill="#cb4a43" />
<rect x="172.27" y="403.50" width="20.77" height="1.30" fill="#e68468" />
<rect x="192.73" y="403.50" width="20.47" height="1.30" fill="#f6b293" />
<rect x="90.40" y="404.50" width="20.77" height="2.80" fill="#65a9cf" />
<rect x="110.87" y="404.50" width="20.77" height="2.80" fill="#a8d0e4" />
<rect x="131.33" y="404.50" width="20.77" height="2.80" fill="#8fc3dd" />
<rect x="151.80" y="404.50" width="20.77" height="2.80" fill="#e27c62" />
<rect x="172.27" y="404.50" width="20.77" height="2.80" fill="#d76350" />
<rect x="192.73" y="404.50" width="20.47" height="2.80" fill="#f8bea3" />
<rect x="90.40" y="407.00" width="20.77" height="1.30" fill="#a8d0e4" />
<rect x="110.87" y="407.00" width="20.77" height="1.30" fill="#73b1d3" />
<rect x="131.33" y="407.00" width="20.77" height="1.30" fill="#9ac9e0" />
<rect x="151.80" y="407.00" width="20.77" height="1.30" fill="#fcd8c3" />
<rect x="172.27" y="407.00" width="20.77" height="1.30" fill="#c53f3d" />
<rect x="192.73" y="407.00" width="20.47" height="1.30" fill="#fcd5bf" />
<rect x="90.40" y="408.00" width="20.77" height="1.80" fill="#96c7df" />
<rect x="110.87" y="408.00" width="20.77" height="1.80" fill="#4594c4" />
<rect x="131.33" y="408.00" width="20.77" height="1.80" fill="#c9e1ee" />
<rect x="151.80" y="408.00" width="20.77" height="1.80" fill="#df745d" />
<rect x="172.27" y="408.00" width="20.77" height="1.80" fill="#f4a683" />
<rect x="192.73" y="408.00" width="20.47" height="1.80" fill="#fcd4be" />
<rect x="90.40" y="409.50" width="20.77" height="2.80" fill="#88beda" />
<rect x="110.87" y="409.50" width="20.77" height="2.80" fill="#97c8df" />
<rect x="131.33" y="409.50" width="20.77" height="2.80" fill="#b3d6e7" />
<rect x="151.80" y="409.50" width="20.77" height="2.80" fill="#d25849" />
<rect x="172.27" y="409.50" width="20.77" height="2.80" fill="#e7886c" />
<rect x="192.73" y="409.50" width="20.47" height="2.80" fill="#ea8f71" />
<rect x="90.40" y="412.00" width="20.77" height="1.80" fill="#4292c2" />
<rect x="110.87" y="412.00" width="20.77" height="1.80" fill="#91c4de" />
<rect x="131.33" y="412.00" width="20.77" height="1.80" fill="#57a0ca" />
<rect x="151.80" y="412.00" width="20.77" height="1.80" fill="#f3a380" />
<rect x="172.27" y="412.00" width="20.77" height="1.80" fill="#f8bfa3" />
<rect x="192.73" y="412.00" width="20.47" height="1.80" fill="#fcdecc" />
<rect x="90.40" y="413.50" width="20.77" height="1.80" fill="#7db7d7" />
<rect x="110.87" y="413.50" width="20.77" height="1.80" fill="#78b4d5" />
<rect x="131.33" y="413.50" width="20.77" height="1.80" fill="#83bbd9" />
<rect x="151.80" y="413.50" width="20.77" height="1.80" fill="#c94641" />
<rect x="172.27" y="413.50" width="20.77" height="1.80" fill="#e98c6f" />
<rect x="192.73" y="413.50" width="20.47" height="1.80" fill="#f7b596" />
<rect x="90.40" y="415.00" width="20.77" height="2.30" fill="#579fca" />
<rect x="110.87" y="415.00" width="20.77" height="2.30" fill="#8ac0db" />
<rect x="131.33" y="415.00" width="20.77" height="2.30" fill="#cce2ee" />
<rect x="151.80" y="415.00" width="20.77" height="2.30" fill="#cb4a43" />
<rect x="172.27" y="415.00" width="20.77" height="2.30" fill="#f6b394" />
<rect x="192.73" y="415.00" width="20.47" height="2.30" fill="#f09b7a" />
<rect x="90.40" y="417.00" width="20.77" height="3.30" fill="#7bb7d6" />
<rect x="110.87" y="417.00" width="20.77" height="3.30" fill="#8cc1dc" />
<rect x="131.33" y="417.00" width="20.77" height="3.30" fill="#c5dfec" />
<rect x="151.80" y="417.00" width="20.77" height="3.30" fill="#eb8f71" />
<rect x="172.27" y="417.00" width="20.77" height="3.30" fill="#f5a886" />
<rect x="192.73" y="417.00" width="20.47" height="3.30" fill="#f8bda1" />
<rect x="90.40" y="420.00" width="20.77" height="1.30" fill="#9dcbe1" />
<rect x="110.87" y="420.00" width="20.77" height="1.30" fill="#98c8e0" />
<rect x="131.33" y="420.00" width="20.77" height="1.30" fill="#b2d5e7" />
<rect x="151.80" y="420.00" width="20.77" height="1.30" fill="#dd705a" />
<rect x="172.27" y="420.00" width="20.77" height="1.30" fill="#f19e7d" />
<rect x="192.73" y="420.00" width="20.47" height="1.30" fill="#fcd6c1" />
<rect x="90.40" y="421.00" width="20.77" height="2.80" fill="#4e9ac7" />
<rect x="110.87" y="421.00" width="20.77" height="2.80" fill="#c3deec" />
<rect x="131.33" y="421.00" width="20.77" height="2.80" fill="#9fcce2" />
<rect x="151.80" y="421.00" width="20.77" height="2.80" fill="#cb4a43" />
<rect x="172.27" y="421.00" width="20.77" height="2.80" fill="#e7866a" />
<rect x="192.73" y="421.00" width="20.47" height="2.80" fill="#e47f65" />
<rect x="90.40" y="423.50" width="20.77" height="1.80" fill="#4190c2" />
<rect x="110.87" y="423.50" width="20.77" height="1.80" fill="#9dcae1" />
<rect x="131.33" y="423.50" width="20.77" height="1.80" fill="#a4cee3" />
<rect x="151.80" y="423.50" width="20.77" height="1.80" fill="#ca4841" />
<rect x="172.27" y="423.50" width="20.77" height="1.80" fill="#da6954" />
<rect x="192.73" y="423.50" width="20.47" height="1.80" fill="#fac8af" />
<rect x="90.40" y="425.00" width="20.77" height="1.80" fill="#b1d5e7" />
<rect x="110.87" y="425.00" width="20.77" height="1.80" fill="#bcdaea" />
<rect x="131.33" y="425.00" width="20.77" height="1.80" fill="#a2cde3" />
<rect x="151.80" y="425.00" width="20.77" height="1.80" fill="#db6c56" />
<rect x="172.27" y="425.00" width="20.77" height="1.80" fill="#ef9979" />
<rect x="192.73" y="425.00" width="20.47" height="1.80" fill="#fcdecc" />
<rect x="90.40" y="426.50" width="20.77" height="3.30" fill="#9ac9e0" />
<rect x="110.87" y="426.50" width="20.77" height="3.30" fill="#93c6de" />
<rect x="131.33" y="426.50" width="20.77" height="3.30" fill="#aad1e5" />
<rect x="151.80" y="426.50" width="20.77" height="3.30" fill="#cc4d44" />
<rect x="172.27" y="426.50" width="20.77" height="3.30" fill="#f4a481" />
<rect x="192.73" y="426.50" width="20.47" height="3.30" fill="#facab2" />
<rect x="90.40" y="429.50" width="20.77" height="1.30" fill="#a1cce2" />
<rect x="110.87" y="429.50" width="20.77" height="1.30" fill="#5ca3cb" />
<rect x="131.33" y="429.50" width="20.77" height="1.30" fill="#afd4e6" />
<rect x="151.80" y="429.50" width="20.77" height="1.30" fill="#fcd4be" />
<rect x="172.27" y="429.50" width="20.77" height="1.30" fill="#f5ab89" />
<rect x="192.73" y="429.50" width="20.47" height="1.30" fill="#e17960" />
<rect x="90.40" y="430.50" width="20.77" height="2.30" fill="#87beda" />
<rect x="110.87" y="430.50" width="20.77" height="2.30" fill="#9ecbe1" />
<rect x="131.33" y="430.50" width="20.77" height="2.30" fill="#c0dceb" />
<rect x="151.80" y="430.50" width="20.77" height="2.30" fill="#ee9777" />
<rect x="172.27" y="430.50" width="20.77" height="2.30" fill="#f6af8e" />
<rect x="192.73" y="430.50" width="20.47" height="2.30" fill="#fac9b0" />
<rect x="90.40" y="432.50" width="20.77" height="1.80" fill="#a6cfe4" />
<rect x="110.87" y="432.50" width="20.77" height="1.80" fill="#67a9cf" />
<rect x="131.33" y="432.50" width="20.77" height="1.80" fill="#92c5de" />
<rect x="151.80" y="432.50" width="20.77" height="1.80" fill="#ed9475" />
<rect x="172.27" y="432.50" width="20.77" height="1.80" fill="#f8bb9e" />
<rect x="192.73" y="432.50" width="20.47" height="1.80" fill="#f5aa88" />
<rect x="90.40" y="434.00" width="20.77" height="1.30" fill="#aad1e5" />
<rect x="110.87" y="434.00" width="20.77" height="1.30" fill="#76b3d4" />
<rect x="131.33" y="434.00" width="20.77" height="1.30" fill="#97c8df" />
<rect x="151.80" y="434.00" width="20.77" height="1.30" fill="#d96753" />
<rect x="172.27" y="434.00" width="20.77" height="1.30" fill="#dd715a" />
<rect x="192.73" y="434.00" width="20.47" height="1.30" fill="#f19e7d" />
<rect x="90.40" y="435.00" width="20.77" height="1.30" fill="#a0cce2" />
<rect x="110.87" y="435.00" width="20.77" height="1.30" fill="#b5d7e8" />
<rect x="131.33" y="435.00" width="20.77" height="1.30" fill="#bcdaea" />
<rect x="151.80" y="435.00" width="20.77" height="1.30" fill="#dc6e58" />
<rect x="172.27" y="435.00" width="20.77" height="1.30" fill="#f19e7d" />
<rect x="192.73" y="435.00" width="20.47" height="1.30" fill="#fbceb6" />
<rect x="90.40" y="436.00" width="20.77" height="2.30" fill="#7eb8d7" />
<rect x="110.87" y="436.00" width="20.77" height="2.30" fill="#86bdda" />
<rect x="131.33" y="436.00" width="20.77" height="2.30" fill="#9bc9e0" />
<rect x="151.80" y="436.00" width="20.77" height="2.30" fill="#e0775e" />
<rect x="172.27" y="436.00" width="20.77" height="2.30" fill="#f8bda0" />
<rect x="192.73" y="436.00" width="20.47" height="2.30" fill="#ea8e71" />
<rect x="90.40" y="438.00" width="20.77" height="3.30" fill="#72b1d3" />
<rect x="110.87" y="438.00" width="20.77" height="3.30" fill="#abd1e5" />
<rect x="131.33" y="438.00" width="20.77" height="3.30" fill="#b4d6e8" />
<rect x="151.80" y="438.00" width="20.77" height="3.30" fill="#ec9273" />
<rect x="172.27" y="438.00" width="20.77" height="3.30" fill="#f7b697" />
<rect x="192.73" y="438.00" width="20.47" height="3.30" fill="#f4a684" />
<rect x="90.40" y="441.00" width="20.77" height="1.30" fill="#6cadd1" />
<rect x="110.87" y="441.00" width="20.77" height="1.30" fill="#add3e6" />
<rect x="131.33" y="441.00" width="20.77" height="1.30" fill="#72b1d3" />
<rect x="151.80" y="441.00" width="20.77" height="1.30" fill="#c13639" />
<rect x="172.27" y="441.00" width="20.77" height="1.30" fill="#d96752" />
<rect x="192.73" y="441.00" width="20.47" height="1.30" fill="#f4a784" />
<rect x="90.40" y="442.00" width="20.77" height="1.80" fill="#89c0db" />
<rect x="110.87" y="442.00" width="20.77" height="1.80" fill="#b7d8e9" />
<rect x="131.33" y="442.00" width="20.77" height="1.80" fill="#a4cee3" />
<rect x="151.80" y="442.00" width="20.77" height="1.80" fill="#e98b6e" />
<rect x="172.27" y="442.00" width="20.77" height="1.80" fill="#f19e7d" />
<rect x="192.73" y="442.00" width="20.47" height="1.80" fill="#f7b89b" />
<rect x="90.40" y="443.50" width="20.77" height="1.30" fill="#9ecbe2" />
<rect x="110.87" y="443.50" width="20.77" height="1.30" fill="#9fcce2" />
<rect x="131.33" y="443.50" width="20.77" height="1.30" fill="#79b5d5" />
<rect x="151.80" y="443.50" width="20.77" height="1.30" fill="#da6954" />
<rect x="172.27" y="443.50" width="20.77" height="1.30" fill="#f5a987" />
<rect x="192.73" y="443.50" width="20.47" height="1.30" fill="#e17860" />
<rect x="90.40" y="444.50" width="20.77" height="3.30" fill="#7db8d7" />
<rect x="110.87" y="444.50" width="20.77" height="3.30" fill="#7ab6d6" />
<rect x="131.33" y="444.50" width="20.77" height="3.30" fill="#8ac0db" />
<rect x="151.80" y="444.50" width="20.77" height="3.30" fill="#df745d" />
<rect x="172.27" y="444.50" width="20.77" height="3.30" fill="#d15749" />
<rect x="192.73" y="444.50" width="20.47" height="3.30" fill="#f6b292" />
<rect x="90.40" y="447.50" width="20.77" height="1.80" fill="#99c8e0" />
<rect x="110.87" y="447.50" width="20.77" height="1.80" fill="#a8d0e4" />
<rect x="131.33" y="447.50" width="20.77" height="1.80" fill="#a2cde3" />
<rect x="151.80" y="447.50" width="20.77" height="1.80" fill="#ed9576" />
<rect x="172.27" y="447.50" width="20.77" height="1.80" fill="#e0765e" />
<rect x="192.73" y="447.50" width="20.47" height="1.80" fill="#ed9576" />
<rect x="90.40" y="449.00" width="20.77" height="1.80" fill="#84bcd9" />
<rect x="110.87" y="449.00" width="20.77" height="1.80" fill="#d6e7f1" />
<rect x="131.33" y="449.00" width="20.77" height="1.80" fill="#a3cee3" />
<rect x="151.80" y="449.00" width="20.77" height="1.80" fill="#f8ba9d" />
<rect x="172.27" y="449.00" width="20.77" height="1.80" fill="#ee9878" />
<rect x="192.73" y="449.00" width="20.47" height="1.80" fill="#fbceb7" />
<rect x="90.40" y="450.50" width="20.77" height="1.30" fill="#4090c1" />
<rect x="110.87" y="450.50" width="20.77" height="1.30" fill="#a4cee3" />
<rect x="131.33" y="450.50" width="20.77" height="1.30" fill="#9ecbe1" />
<rect x="151.80" y="450.50" width="20.77" height="1.30" fill="#dd6f59" />
<rect x="172.27" y="450.50" width="20.77" height="1.30" fill="#f19e7c" />
<rect x="192.73" y="450.50" width="20.47" height="1.30" fill="#e98c6f" />
<rect x="90.40" y="451.50" width="20.77" height="1.30" fill="#9bcae1" />
<rect x="110.87" y="451.50" width="20.77" height="1.30" fill="#85bdd9" />
<rect x="131.33" y="451.50" width="20.77" height="1.30" fill="#add3e6" />
<rect x="151.80" y="451.50" width="20.77" height="1.30" fill="#f5ab89" />
<rect x="172.27" y="451.50" width="20.77" height="1.30" fill="#f6b192" />
<rect x="192.73" y="451.50" width="20.47" height="1.30" fill="#fbe5d8" />
<rect x="90.40" y="452.50" width="20.77" height="3.30" fill="#76b3d4" />
<rect x="110.87" y="452.50" width="20.77" height="3.30" fill="#8ac0db" />
<rect x="131.33" y="452.50" width="20.77" height="3.30" fill="#a4cee3" />
<rect x="151.80" y="452.50" width="20.77" height="3.30" fill="#f6b495" />
<rect x="172.27" y="452.50" width="20.77" height="3.30" fill="#f09c7b" />
<rect x="192.73" y="452.50" width="20.47" height="3.30" fill="#f6af8f" />
<rect x="90.40" y="455.50" width="20.77" height="2.80" fill="#8fc3dd" />
<rect x="110.87" y="455.50" width="20.77" height="2.80" fill="#539dc8" />
<rect x="131.33" y="455.50" width="20.77" height="2.80" fill="#94c6de" />
<rect x="151.80" y="455.50" width="20.77" height="2.80" fill="#f2a07e" />
<rect x="172.27" y="455.50" width="20.77" height="2.80" fill="#fbcdb5" />
<rect x="192.73" y="455.50" width="20.47" height="2.80" fill="#ee9878" />
<rect x="90.40" y="458.00" width="20.77" height="1.30" fill="#79b5d6" />
<rect x="110.87" y="458.00" width="20.77" height="1.30" fill="#75b3d4" />
<rect x="131.33" y="458.00" width="20.77" height="1.30" fill="#b5d7e8" />
<rect x="151.80" y="458.00" width="20.77" height="1.30" fill="#c94741" />
<rect x="172.27" y="458.00" width="20.77" height="1.30" fill="#e48167" />
<rect x="192.73" y="458.00" width="20.47" height="1.30" fill="#f6b292" />
<rect x="90.40" y="459.00" width="20.77" height="1.30" fill="#79b5d5" />
<rect x="110.87" y="459.00" width="20.77" height="1.30" fill="#8fc3dd" />
<rect x="131.33" y="459.00" width="20.77" height="1.30" fill="#7cb7d6" />
<rect x="151.80" y="459.00" width="20.77" height="1.30" fill="#dc6f58" />
<rect x="172.27" y="459.00" width="20.77" height="1.30" fill="#e48166" />
<rect x="192.73" y="459.00" width="20.47" height="1.30" fill="#f6b090" />
<rect x="90.40" y="460.00" width="20.77" height="1.30" fill="#94c6de" />
<rect x="110.87" y="460.00" width="20.77" height="1.30" fill="#7eb8d7" />
<rect x="131.33" y="460.00" width="20.77" height="1.30" fill="#8bc0dc" />
<rect x="151.80" y="460.00" width="20.77" height="1.30" fill="#bc2c34" />
<rect x="172.27" y="460.00" width="20.77" height="1.30" fill="#f6b394" />
<rect x="192.73" y="460.00" width="20.47" height="1.30" fill="#fddbc7" />
<rect x="90.40" y="461.00" width="20.77" height="1.30" fill="#8dc2dc" />
<rect x="110.87" y="461.00" width="20.77" height="1.30" fill="#90c4dd" />
<rect x="131.33" y="461.00" width="20.77" height="1.30" fill="#7bb7d6" />
<rect x="151.80" y="461.00" width="20.77" height="1.30" fill="#f6b393" />
<rect x="172.27" y="461.00" width="20.77" height="1.30" fill="#e7876b" />
<rect x="192.73" y="461.00" width="20.47" height="1.30" fill="#fddcc9" />
<rect x="90.40" y="462.00" width="20.77" height="1.80" fill="#a6cfe4" />
<rect x="110.87" y="462.00" width="20.77" height="1.80" fill="#6dadd1" />
<rect x="131.33" y="462.00" width="20.77" height="1.80" fill="#d7e8f1" />
<rect x="151.80" y="462.00" width="20.77" height="1.80" fill="#f7b597" />
<rect x="172.27" y="462.00" width="20.77" height="1.80" fill="#f8bfa3" />
<rect x="192.73" y="462.00" width="20.47" height="1.80" fill="#fdddca" />
<rect x="90.40" y="463.50" width="20.77" height="1.80" fill="#559ec9" />
<rect x="110.87" y="463.50" width="20.77" height="1.80" fill="#74b2d4" />
<rect x="131.33" y="463.50" width="20.77" height="1.80" fill="#acd2e5" />
<rect x="151.80" y="463.50" width="20.77" height="1.80" fill="#cd4d44" />
<rect x="172.27" y="463.50" width="20.77" height="1.80" fill="#dc6d57" />
<rect x="192.73" y="463.50" width="20.47" height="1.80" fill="#ed9475" />
<rect x="90.40" y="465.00" width="20.77" height="2.80" fill="#88bfdb" />
<rect x="110.87" y="465.00" width="20.77" height="2.80" fill="#9bcae1" />
<rect x="131.33" y="465.00" width="20.77" height="2.80" fill="#8ac0db" />
<rect x="151.80" y="465.00" width="20.77" height="2.80" fill="#d55e4c" />
<rect x="172.27" y="465.00" width="20.77" height="2.80" fill="#e8896c" />
<rect x="192.73" y="465.00" width="20.47" height="2.80" fill="#f6b293" />
<rect x="90.40" y="467.50" width="20.77" height="1.80" fill="#8ec2dd" />
<rect x="110.87" y="467.50" width="20.77" height="1.80" fill="#6cadd1" />
<rect x="131.33" y="467.50" width="20.77" height="1.80" fill="#7ab6d6" />
<rect x="151.80" y="467.50" width="20.77" height="1.80" fill="#d96753" />
<rect x="172.27" y="467.50" width="20.77" height="1.80" fill="#e98b6e" />
<rect x="192.73" y="467.50" width="20.47" height="1.80" fill="#fcd8c3" />
<rect x="90.40" y="469.00" width="20.77" height="1.80" fill="#7fb9d8" />
<rect x="110.87" y="469.00" width="20.77" height="1.80" fill="#80bad8" />
<rect x="131.33" y="469.00" width="20.77" height="1.80" fill="#a2cde3" />
<rect x="151.80" y="469.00" width="20.77" height="1.80" fill="#d25749" />
<rect x="172.27" y="469.00" width="20.77" height="1.80" fill="#e88a6d" />
<rect x="192.73" y="469.00" width="20.47" height="1.80" fill="#ec9374" />
<rect x="90.40" y="470.50" width="20.77" height="1.30" fill="#5ea4cc" />
<rect x="110.87" y="470.50" width="20.77" height="1.30" fill="#92c5de" />
<rect x="131.33" y="470.50" width="20.77" height="1.30" fill="#add3e6" />
<rect x="151.80" y="470.50" width="20.77" height="1.30" fill="#de725b" />
<rect x="172.27" y="470.50" width="20.77" height="1.30" fill="#e58368" />
<rect x="192.73" y="470.50" width="20.47" height="1.30" fill="#f6b292" />
<rect x="90.40" y="471.50" width="20.77" height="2.30" fill="#5ba2cb" />
<rect x="110.87" y="471.50" width="20.77" height="2.30" fill="#86beda" />
<rect x="131.33" y="471.50" width="20.77" height="2.30" fill="#95c7df" />
<rect x="151.80" y="471.50" width="20.77" height="2.30" fill="#de735b" />
<rect x="172.27" y="471.50" width="20.77" height="2.30" fill="#d86651" />
<rect x="192.73" y="471.50" width="20.47" height="2.30" fill="#fce0cf" />
<rect x="90.40" y="473.50" width="20.77" height="2.80" fill="#a2cde3" />
<rect x="110.87" y="473.50" width="20.77" height="2.80" fill="#b0d4e7" />
<rect x="131.33" y="473.50" width="20.77" height="2.80" fill="#9dcbe1" />
<rect x="151.80" y="473.50" width="20.77" height="2.80" fill="#de725b" />
<rect x="172.27" y="473.50" width="20.77" height="2.80" fill="#ec9274" />
<rect x="192.73" y="473.50" width="20.47" height="2.80" fill="#e27c62" />
<rect x="90.40" y="476.00" width="20.77" height="1.30" fill="#6eaed2" />
<rect x="110.87" y="476.00" width="20.77" height="1.30" fill="#a7d0e4" />
<rect x="131.33" y="476.00" width="20.77" height="1.30" fill="#91c4de" />
<rect x="151.80" y="476.00" width="20.77" height="1.30" fill="#df755d" />
<rect x="172.27" y="476.00" width="20.77" height="1.30" fill="#da6954" />
<rect x="192.73" y="476.00" width="20.47" height="1.30" fill="#f7b99b" />
<rect x="90.40" y="477.00" width="20.77" height="3.30" fill="#82bbd9" />
<rect x="110.87" y="477.00" width="20.77" height="3.30" fill="#6cadd1" />
<rect x="131.33" y="477.00" width="20.77" height="3.30" fill="#9fcce2" />
<rect x="151.80" y="477.00" width="20.77" height="3.30" fill="#d35a4a" />
<rect x="172.27" y="477.00" width="20.77" height="3.30" fill="#f9c0a5" />
<rect x="192.73" y="477.00" width="20.47" height="3.30" fill="#f8bda1" />
<rect x="90.40" y="480.00" width="20.77" height="2.80" fill="#91c5de" />
<rect x="110.87" y="480.00" width="20.77" height="2.80" fill="#a3cee3" />
<rect x="131.33" y="480.00" width="20.77" height="2.80" fill="#9dcbe1" />
<rect x="151.80" y="480.00" width="20.77" height="2.80" fill="#ba2832" />
<rect x="172.27" y="480.00" width="20.77" height="2.80" fill="#f9c2a7" />
<rect x="192.73" y="480.00" width="20.47" height="2.80" fill="#f7b89a" />
<rect x="90.40" y="482.50" width="20.77" height="1.80" fill="#71b0d3" />
<rect x="110.87" y="482.50" width="20.77" height="1.80" fill="#6cadd1" />
<rect x="131.33" y="482.50" width="20.77" height="1.80" fill="#8ec2dd" />
<rect x="151.80" y="482.50" width="20.77" height="1.80" fill="#d65f4d" />
<rect x="172.27" y="482.50" width="20.77" height="1.80" fill="#e98b6e" />
<rect x="192.73" y="482.50" width="20.47" height="1.80" fill="#e7886c" />
<rect x="90.40" y="484.00" width="20.77" height="1.80" fill="#9ccae1" />
<rect x="110.87" y="484.00" width="20.77" height="1.80" fill="#98c8e0" />
<rect x="131.33" y="484.00" width="20.77" height="1.80" fill="#add3e6" />
<rect x="151.80" y="484.00" width="20.77" height="1.80" fill="#cc4b43" />
<rect x="172.27" y="484.00" width="20.77" height="1.80" fill="#e98b6e" />
<rect x="192.73" y="484.00" width="20.47" height="1.80" fill="#f6af8f" />
<rect x="90.40" y="485.50" width="20.77" height="1.30" fill="#acd2e5" />
<rect x="110.87" y="485.50" width="20.77" height="1.30" fill="#7bb7d6" />
<rect x="131.33" y="485.50" width="20.77" height="1.30" fill="#a4cee3" />
<rect x="151.80" y="485.50" width="20.77" height="1.30" fill="#f2a07e" />
<rect x="172.27" y="485.50" width="20.77" height="1.30" fill="#e27c63" />
<rect x="192.73" y="485.50" width="20.47" height="1.30" fill="#f8f0eb" />
<rect x="90.40" y="486.50" width="20.77" height="1.80" fill="#97c8df" />
<rect x="110.87" y="486.50" width="20.77" height="1.80" fill="#97c8df" />
<rect x="131.33" y="486.50" width="20.77" height="1.80" fill="#95c6df" />
<rect x="151.80" y="486.50" width="20.77" height="1.80" fill="#be2f36" />
<rect x="172.27" y="486.50" width="20.77" height="1.80" fill="#ef9878" />
<rect x="192.73" y="486.50" width="20.47" height="1.80" fill="#f4a784" />
<rect x="90.40" y="488.00" width="20.77" height="1.80" fill="#63a7ce" />
<rect x="110.87" y="488.00" width="20.77" height="1.80" fill="#7fb9d7" />
<rect x="131.33" y="488.00" width="20.77" height="1.80" fill="#9ecbe1" />
<rect x="151.80" y="488.00" width="20.77" height="1.80" fill="#de725b" />
<rect x="172.27" y="488.00" width="20.77" height="1.80" fill="#da6a54" />
<rect x="192.73" y="488.00" width="20.47" height="1.80" fill="#f6b192" />
<rect x="90.40" y="489.50" width="20.77" height="1.30" fill="#88bfdb" />
<rect x="110.87" y="489.50" width="20.77" height="1.30" fill="#8bc0dc" />
<rect x="131.33" y="489.50" width="20.77" height="1.30" fill="#94c6de" />
<rect x="151.80" y="489.50" width="20.77" height="1.30" fill="#d65f4d" />
<rect x="172.27" y="489.50" width="20.77" height="1.30" fill="#d6614e" />
<rect x="192.73" y="489.50" width="20.47" height="1.30" fill="#f9c5ab" />
<rect x="90.40" y="490.50" width="20.77" height="1.80" fill="#7cb7d7" />
<rect x="110.87" y="490.50" width="20.77" height="1.80" fill="#68aad0" />
<rect x="131.33" y="490.50" width="20.77" height="1.80" fill="#b5d7e8" />
<rect x="151.80" y="490.50" width="20.77" height="1.80" fill="#da6853" />
<rect x="172.27" y="490.50" width="20.77" height="1.80" fill="#da6954" />
<rect x="192.73" y="490.50" width="20.47" height="1.80" fill="#f7b596" />
<rect x="90.40" y="492.00" width="20.77" height="3.30" fill="#a9d1e5" />
<rect x="110.87" y="492.00" width="20.77" height="3.30" fill="#87beda" />
<rect x="131.33" y="492.00" width="20.77" height="3.30" fill="#a3cee3" />
<rect x="151.80" y="492.00" width="20.77" height="3.30" fill="#c33a3b" />
<rect x="172.27" y="492.00" width="20.77" height="3.30" fill="#f09c7b" />
<rect x="192.73" y="492.00" width="20.47" height="3.30" fill="#ea8f71" />
<rect x="90.40" y="495.00" width="20.77" height="1.30" fill="#85bdda" />
<rect x="110.87" y="495.00" width="20.77" height="1.30" fill="#87beda" />
<rect x="131.33" y="495.00" width="20.77" height="1.30" fill="#b8d9e9" />
<rect x="151.80" y="495.00" width="20.77" height="1.30" fill="#e58368" />
<rect x="172.27" y="495.00" width="20.77" height="1.30" fill="#f6b293" />
<rect x="192.73" y="495.00" width="20.47" height="1.30" fill="#f5aa88" />
<rect x="90.40" y="496.00" width="20.77" height="1.30" fill="#4695c4" />
<rect x="110.87" y="496.00" width="20.77" height="1.30" fill="#aed3e6" />
<rect x="131.33" y="496.00" width="20.77" height="1.30" fill="#5da3cc" />
<rect x="151.80" y="496.00" width="20.77" height="1.30" fill="#da6a55" />
<rect x="172.27" y="496.00" width="20.77" height="1.30" fill="#f19e7d" />
<rect x="192.73" y="496.00" width="20.47" height="1.30" fill="#d6604d" />
<rect x="90.40" y="497.00" width="20.77" height="1.30" fill="#7fb9d8" />
<rect x="110.87" y="497.00" width="20.77" height="1.30" fill="#a5cfe4" />
<rect x="131.33" y="497.00" width="20.77" height="1.30" fill="#a8d0e4" />
<rect x="151.80" y="497.00" width="20.77" height="1.30" fill="#da6a54" />
<rect x="172.27" y="497.00" width="20.77" height="1.30" fill="#f3a280" />
<rect x="192.73" y="497.00" width="20.47" height="1.30" fill="#fdd9c5" />
<rect x="90.40" y="498.00" width="20.77" height="2.80" fill="#63a7ce" />
<rect x="110.87" y="498.00" width="20.77" height="2.80" fill="#71b0d3" />
<rect x="131.33" y="498.00" width="20.77" height="2.80" fill="#8fc3dd" />
<rect x="151.80" y="498.00" width="20.77" height="2.80" fill="#c94641" />
<rect x="172.27" y="498.00" width="20.77" height="2.80" fill="#db6c56" />
<rect x="192.73" y="498.00" width="20.47" height="2.80" fill="#e8886c" />
<rect x="90.40" y="500.50" width="20.77" height="1.30" fill="#7ab6d6" />
<rect x="110.87" y="500.50" width="20.77" height="1.30" fill="#4896c5" />
<rect x="131.33" y="500.50" width="20.77" height="1.30" fill="#8dc2dc" />
<rect x="151.80" y="500.50" width="20.77" height="1.30" fill="#de725b" />
<rect x="172.27" y="500.50" width="20.77" height="1.30" fill="#f4a684" />
<rect x="192.73" y="500.50" width="20.47" height="1.30" fill="#e7876b" />
<rect x="90.40" y="501.50" width="20.77" height="1.30" fill="#7eb9d7" />
<rect x="110.87" y="501.50" width="20.77" height="1.30" fill="#aed3e6" />
<rect x="131.33" y="501.50" width="20.77" height="1.30" fill="#bddbea" />
<rect x="151.80" y="501.50" width="20.77" height="1.30" fill="#de735c" />
<rect x="172.27" y="501.50" width="20.77" height="1.30" fill="#f7b99b" />
<rect x="192.73" y="501.50" width="20.47" height="1.30" fill="#f8f3f0" />
<rect x="90.40" y="502.50" width="20.77" height="1.30" fill="#519cc8" />
<rect x="110.87" y="502.50" width="20.77" height="1.30" fill="#80b9d8" />
<rect x="131.33" y="502.50" width="20.77" height="1.30" fill="#94c6df" />
<rect x="151.80" y="502.50" width="20.77" height="1.30" fill="#df755d" />
<rect x="172.27" y="502.50" width="20.77" height="1.30" fill="#de735c" />
<rect x="192.73" y="502.50" width="20.47" height="1.30" fill="#f7b495" />
<rect x="90.40" y="503.50" width="20.77" height="1.80" fill="#6dadd1" />
<rect x="110.87" y="503.50" width="20.77" height="1.80" fill="#a5cfe4" />
<rect x="131.33" y="503.50" width="20.77" height="1.80" fill="#aad1e5" />
<rect x="151.80" y="503.50" width="20.77" height="1.80" fill="#f5ac8b" />
<rect x="172.27" y="503.50" width="20.77" height="1.80" fill="#f4a886" />
<rect x="192.73" y="503.50" width="20.47" height="1.80" fill="#f8bfa3" />
<rect x="90.40" y="505.00" width="20.77" height="3.30" fill="#4191c2" />
<rect x="110.87" y="505.00" width="20.77" height="3.30" fill="#6aacd0" />
<rect x="131.33" y="505.00" width="20.77" height="3.30" fill="#92c5de" />
<rect x="151.80" y="505.00" width="20.77" height="3.30" fill="#e17a61" />
<rect x="172.27" y="505.00" width="20.77" height="3.30" fill="#eb9172" />
<rect x="192.73" y="505.00" width="20.47" height="3.30" fill="#f9c1a6" />
<rect x="90.40" y="508.00" width="20.77" height="0.80" fill="#80bad8" />
<rect x="110.87" y="508.00" width="20.77" height="0.80" fill="#acd2e5" />
<rect x="131.33" y="508.00" width="20.77" height="0.80" fill="#c7e0ed" />
<rect x="151.80" y="508.00" width="20.77" height="0.80" fill="#f4a583" />
<rect x="172.27" y="508.00" width="20.77" height="0.80" fill="#ea8e70" />
<rect x="192.73" y="508.00" width="20.47" height="0.80" fill="#fddcc9" />
<line x1="310.50" y1="36.05" x2="310.50" y2="126.00" stroke="#e0e0e0" stroke-width="0.8" stroke-dasharray="1.2 1.2"/>
<line x1="338.25" y1="36.05" x2="338.25" y2="126.00" stroke="#e0e0e0" stroke-width="0.8" stroke-dasharray="1.2 1.2"/>
<line x1="366.00" y1="36.05" x2="366.00" y2="126.00" stroke="#e0e0e0" stroke-width="0.8" stroke-dasharray="1.2 1.2"/>
<line x1="393.75" y1="36.05" x2="393.75" y2="126.00" stroke="#e0e0e0" stroke-width="0.8" stroke-dasharray="1.2 1.2"/>
<line x1="421.50" y1="36.05" x2="421.50" y2="126.00" stroke="#e0e0e0" stroke-width="0.8" stroke-dasharray="1.2 1.2"/>
<line x1="449.25" y1="36.05" x2="449.25" y2="126.00" stroke="#e0e0e0" stroke-width="0.8" stroke-dasharray="1.2 1.2"/>
<line x1="477.00" y1="36.05" x2="477.00" y2="126.00" stroke="#e0e0e0" stroke-width="0.8" stroke-dasharray="1.2 1.2"/>
<line x1="504.75" y1="36.05" x2="504.75" y2="126.00" stroke="#e0e0e0" stroke-width="0.8" stroke-dasharray="1.2 1.2"/>
<line x1="283.50" y1="61.00" x2="512.40" y2="61.00" stroke="#e0e0e0" stroke-width="0.8" stroke-dasharray="1.2 1.2"/>
<line x1="283.50" y1="75.50" x2="512.40" y2="75.50" stroke="#e0e0e0" stroke-width="0.8" stroke-dasharray="1.2 1.2"/>
<line x1="283.50" y1="90.00" x2="512.40" y2="90.00" stroke="#e0e0e0" stroke-width="0.8" stroke-dasharray="1.2 1.2"/>
<line x1="283.50" y1="104.50" x2="512.40" y2="104.50" stroke="#e0e0e0" stroke-width="0.8" stroke-dasharray="1.2 1.2"/>
<line x1="283.50" y1="119.00" x2="512.40" y2="119.00" stroke="#e0e0e0" stroke-width="0.8" stroke-dasharray="1.2 1.2"/>
<line x1="283.50" y1="46.50" x2="512.40" y2="46.50" stroke="#c6c6c6" stroke-width="1.0" />
<line x1="283.50" y1="126.00" x2="512.40" y2="126.00" stroke="#cfcfcf" stroke-width="1.0" />
<line x1="283.50" y1="156.50" x2="512.40" y2="156.50" stroke="#dddddd" stroke-width="0.6" />
<rect x="283.50" y="156.20" width="8.90" height="6.80" fill="#e8383c" />
<rect x="291.90" y="156.20" width="53.20" height="6.80" fill="#f64b50" />
<rect x="344.60" y="156.20" width="24.80" height="6.80" fill="#fa5668" />
<rect x="368.90" y="156.20" width="31.60" height="6.80" fill="#fe6e6e" />
<rect x="400.00" y="156.20" width="33.70" height="6.80" fill="#ffb0e0" />
<rect x="433.20" y="156.20" width="21.10" height="6.80" fill="#ccccf8" />
<rect x="453.80" y="156.20" width="14.50" height="6.80" fill="#b8b8ff" />
<rect x="467.80" y="156.20" width="7.50" height="6.80" fill="#6e6eff" />
<rect x="474.80" y="156.20" width="22.80" height="6.80" fill="#4a3cec" />
<rect x="497.10" y="156.20" width="3.90" height="6.80" fill="#1a00cc" />
<line x1="296.70" y1="126.50" x2="296.70" y2="156.20" stroke="#474747" stroke-width="0.9" />
<line x1="414.50" y1="126.50" x2="414.50" y2="156.20" stroke="#474747" stroke-width="0.9" />
<line x1="420.20" y1="126.50" x2="420.20" y2="156.20" stroke="#474747" stroke-width="0.9" />
<line x1="431.60" y1="126.50" x2="431.60" y2="156.20" stroke="#474747" stroke-width="0.9" />
<rect x="434.00" y="126.50" width="4.60" height="29.70" fill="#5e5e5e" />
<rect x="438.60" y="126.50" width="2.60" height="29.70" fill="#8c8c8c" />
<line x1="434.60" y1="126.50" x2="434.60" y2="156.20" stroke="#474747" stroke-width="0.9" />
<line x1="436.30" y1="126.50" x2="436.30" y2="156.20" stroke="#474747" stroke-width="0.9" />
<line x1="440.40" y1="126.50" x2="440.40" y2="156.20" stroke="#474747" stroke-width="0.9" />
<line x1="443.30" y1="126.50" x2="443.30" y2="156.20" stroke="#474747" stroke-width="0.9" />
<line x1="447.40" y1="126.50" x2="447.40" y2="156.20" stroke="#474747" stroke-width="0.9" />
<line x1="448.70" y1="126.50" x2="448.70" y2="156.20" stroke="#474747" stroke-width="0.9" />
<line x1="451.50" y1="126.50" x2="451.50" y2="156.20" stroke="#474747" stroke-width="0.9" />
<line x1="452.30" y1="126.50" x2="452.30" y2="156.20" stroke="#474747" stroke-width="0.9" />
<line x1="455.20" y1="126.50" x2="455.20" y2="156.20" stroke="#474747" stroke-width="0.9" />
<line x1="466.60" y1="126.50" x2="466.60" y2="156.20" stroke="#474747" stroke-width="0.9" />
<line x1="501.00" y1="126.50" x2="501.00" y2="156.20" stroke="#474747" stroke-width="0.9" />
<polyline points="283.60,46.75 296.25,55.50 296.75,40.00 414.00,120.20 414.70,115.30 419.30,118.40 420.10,114.30 431.00,121.50 431.70,117.80 433.50,119.40 436.00,107.80 437.30,103.50 439.80,92.30 441.00,88.30 442.90,89.80 443.70,84.80 447.20,87.30 447.80,82.40 450.90,84.20 451.90,78.60 452.40,68.70 454.00,69.30 455.30,63.70 465.80,70.90 466.60,63.40 500.70,86.80 501.30,46.30" fill="none" stroke="#00ff00" stroke-width="1.5" stroke-linejoin="miter" stroke-miterlimit="3"/>
<line x1="279.90" y1="46.50" x2="283.50" y2="46.50" stroke="#222" stroke-width="1.1" />
<line x1="279.90" y1="61.00" x2="283.50" y2="61.00" stroke="#222" stroke-width="1.1" />
<line x1="279.90" y1="75.50" x2="283.50" y2="75.50" stroke="#222" stroke-width="1.1" />
<line x1="279.90" y1="90.00" x2="283.50" y2="90.00" stroke="#222" stroke-width="1.1" />
<line x1="279.90" y1="104.50" x2="283.50" y2="104.50" stroke="#222" stroke-width="1.1" />
<line x1="279.90" y1="119.00" x2="283.50" y2="119.00" stroke="#222" stroke-width="1.1" />
<text x="276.70" y="49.60" font-size="8.7" fill="#222" text-anchor="end" textLength="12.50" lengthAdjust="spacingAndGlyphs">0.0</text>
<text x="276.70" y="78.60" font-size="8.7" fill="#222" text-anchor="end" textLength="15.60" lengthAdjust="spacingAndGlyphs">-0.2</text>
<text x="276.70" y="107.60" font-size="8.7" fill="#222" text-anchor="end" textLength="15.60" lengthAdjust="spacingAndGlyphs">-0.4</text>
<path d="M283.50,36.05 H512.40 V163.00 H283.50 Z" fill="none" stroke="#111" stroke-width="1.35" stroke-linejoin="round"/>
<text x="255.00" y="107.70" font-size="10.6" fill="#222" textLength="64.60" lengthAdjust="spacingAndGlyphs" transform="rotate(-90 255.00 107.70)">Enrichment score</text>
<text x="324.80" y="29.60" font-size="10.2" fill="#222" textLength="146.20" lengthAdjust="spacingAndGlyphs">FISCHER_G2_M_CELL_CYCLE</text>
<text x="287.00" y="103.10" font-size="8.2" fill="#222" textLength="44.80" lengthAdjust="spacingAndGlyphs">NES: -2.198</text>
<text x="287.00" y="115.80" font-size="8.2" fill="#222" textLength="48.50" lengthAdjust="spacingAndGlyphs">FDR q: 0.021</text>
<text x="287.00" y="174.20" font-size="9.3" fill="#222" font-style="italic" textLength="61.80" lengthAdjust="spacingAndGlyphs">pos. correlated</text>
<text x="416.00" y="174.20" font-size="9.3" fill="#222" font-style="italic" textLength="62.40" lengthAdjust="spacingAndGlyphs">neg. correlated</text>
<text x="246.00" y="17.10" font-size="13.5" fill="#000" font-weight="bold" textLength="9.00" lengthAdjust="spacingAndGlyphs" stroke="#000" stroke-width="0.4">C</text>
<line x1="294.00" y1="226.70" x2="294.00" y2="316.50" stroke="#e0e0e0" stroke-width="0.8" stroke-dasharray="1.2 1.2"/>
<line x1="307.83" y1="226.70" x2="307.83" y2="316.50" stroke="#e0e0e0" stroke-width="0.8" stroke-dasharray="1.2 1.2"/>
<line x1="321.66" y1="226.70" x2="321.66" y2="316.50" stroke="#e0e0e0" stroke-width="0.8" stroke-dasharray="1.2 1.2"/>
<line x1="335.49" y1="226.70" x2="335.49" y2="316.50" stroke="#e0e0e0" stroke-width="0.8" stroke-dasharray="1.2 1.2"/>
<line x1="349.32" y1="226.70" x2="349.32" y2="316.50" stroke="#e0e0e0" stroke-width="0.8" stroke-dasharray="1.2 1.2"/>
<line x1="363.15" y1="226.70" x2="363.15" y2="316.50" stroke="#e0e0e0" stroke-width="0.8" stroke-dasharray="1.2 1.2"/>
<line x1="376.98" y1="226.70" x2="376.98" y2="316.50" stroke="#e0e0e0" stroke-width="0.8" stroke-dasharray="1.2 1.2"/>
<line x1="390.81" y1="226.70" x2="390.81" y2="316.50" stroke="#e0e0e0" stroke-width="0.8" stroke-dasharray="1.2 1.2"/>
<line x1="404.64" y1="226.70" x2="404.64" y2="316.50" stroke="#e0e0e0" stroke-width="0.8" stroke-dasharray="1.2 1.2"/>
<line x1="418.47" y1="226.70" x2="418.47" y2="316.50" stroke="#e0e0e0" stroke-width="0.8" stroke-dasharray="1.2 1.2"/>
<line x1="432.30" y1="226.70" x2="432.30" y2="316.50" stroke="#e0e0e0" stroke-width="0.8" stroke-dasharray="1.2 1.2"/>
<line x1="446.13" y1="226.70" x2="446.13" y2="316.50" stroke="#e0e0e0" stroke-width="0.8" stroke-dasharray="1.2 1.2"/>
<line x1="459.96" y1="226.70" x2="459.96" y2="316.50" stroke="#e0e0e0" stroke-width="0.8" stroke-dasharray="1.2 1.2"/>
<line x1="473.79" y1="226.70" x2="473.79" y2="316.50" stroke="#e0e0e0" stroke-width="0.8" stroke-dasharray="1.2 1.2"/>
<line x1="487.62" y1="226.70" x2="487.62" y2="316.50" stroke="#e0e0e0" stroke-width="0.8" stroke-dasharray="1.2 1.2"/>
<line x1="501.45" y1="226.70" x2="501.45" y2="316.50" stroke="#e0e0e0" stroke-width="0.8" stroke-dasharray="1.2 1.2"/>
<line x1="280.60" y1="295.66" x2="509.40" y2="295.66" stroke="#e0e0e0" stroke-width="0.8" stroke-dasharray="1.2 1.2"/>
<line x1="280.60" y1="279.42" x2="509.40" y2="279.42" stroke="#e0e0e0" stroke-width="0.8" stroke-dasharray="1.2 1.2"/>
<line x1="280.60" y1="263.18" x2="509.40" y2="263.18" stroke="#e0e0e0" stroke-width="0.8" stroke-dasharray="1.2 1.2"/>
<line x1="280.60" y1="246.94" x2="509.40" y2="246.94" stroke="#e0e0e0" stroke-width="0.8" stroke-dasharray="1.2 1.2"/>
<line x1="280.60" y1="230.70" x2="509.40" y2="230.70" stroke="#e0e0e0" stroke-width="0.8" stroke-dasharray="1.2 1.2"/>
<line x1="280.60" y1="311.90" x2="509.40" y2="311.90" stroke="#c6c6c6" stroke-width="1.0" />
<line x1="280.60" y1="316.50" x2="509.40" y2="316.50" stroke="#cfcfcf" stroke-width="1.0" />
<line x1="280.60" y1="347.10" x2="509.40" y2="347.10" stroke="#dddddd" stroke-width="0.6" />
<rect x="280.60" y="346.80" width="8.70" height="6.70" fill="#e8383c" />
<rect x="288.80" y="346.80" width="54.00" height="6.70" fill="#f64b50" />
<rect x="342.30" y="346.80" width="23.60" height="6.70" fill="#fa5668" />
<rect x="365.40" y="346.80" width="32.30" height="6.70" fill="#fe6e6e" />
<rect x="397.20" y="346.80" width="33.80" height="6.70" fill="#ffb0e0" />
<rect x="430.50" y="346.80" width="21.60" height="6.70" fill="#ccccf8" />
<rect x="451.60" y="346.80" width="14.30" height="6.70" fill="#b8b8ff" />
<rect x="465.40" y="346.80" width="6.80" height="6.70" fill="#6e6eff" />
<rect x="471.70" y="346.80" width="22.90" height="6.70" fill="#4a3cec" />
<rect x="494.10" y="346.80" width="4.30" height="6.70" fill="#1a00cc" />
<rect x="289.00" y="317.00" width="1.30" height="29.80" fill="#8a8a8a" />
<line x1="291.20" y1="317.00" x2="291.20" y2="346.80" stroke="#474747" stroke-width="0.9" />
<line x1="294.40" y1="317.00" x2="294.40" y2="346.80" stroke="#474747" stroke-width="0.9" />
<line x1="299.80" y1="317.00" x2="299.80" y2="346.80" stroke="#474747" stroke-width="0.9" />
<rect x="306.20" y="317.00" width="1.80" height="29.80" fill="#262626" />
<rect x="312.60" y="317.00" width="2.00" height="29.80" fill="#8a8a8a" />
<line x1="320.40" y1="317.00" x2="320.40" y2="346.80" stroke="#474747" stroke-width="0.9" />
<line x1="326.40" y1="317.00" x2="326.40" y2="346.80" stroke="#474747" stroke-width="0.9" />
<line x1="344.30" y1="317.00" x2="344.30" y2="346.80" stroke="#474747" stroke-width="0.9" />
<line x1="347.70" y1="317.00" x2="347.70" y2="346.80" stroke="#474747" stroke-width="0.9" />
<line x1="348.80" y1="317.00" x2="348.80" y2="346.80" stroke="#474747" stroke-width="0.9" />
<line x1="350.00" y1="317.00" x2="350.00" y2="346.80" stroke="#474747" stroke-width="0.9" />
<line x1="353.10" y1="317.00" x2="353.10" y2="346.80" stroke="#474747" stroke-width="0.9" />
<line x1="355.80" y1="317.00" x2="355.80" y2="346.80" stroke="#474747" stroke-width="0.9" />
<line x1="356.90" y1="317.00" x2="356.90" y2="346.80" stroke="#474747" stroke-width="0.9" />
<line x1="358.20" y1="317.00" x2="358.20" y2="346.80" stroke="#474747" stroke-width="0.9" />
<line x1="362.80" y1="317.00" x2="362.80" y2="346.80" stroke="#474747" stroke-width="0.9" />
<line x1="364.30" y1="317.00" x2="364.30" y2="346.80" stroke="#474747" stroke-width="0.9" />
<line x1="371.50" y1="317.00" x2="371.50" y2="346.80" stroke="#474747" stroke-width="0.9" />
<line x1="376.90" y1="317.00" x2="376.90" y2="346.80" stroke="#474747" stroke-width="0.9" />
<line x1="383.50" y1="317.00" x2="383.50" y2="346.80" stroke="#474747" stroke-width="0.9" />
<line x1="388.90" y1="317.00" x2="388.90" y2="346.80" stroke="#474747" stroke-width="0.9" />
<line x1="395.10" y1="317.00" x2="395.10" y2="346.80" stroke="#474747" stroke-width="0.9" />
<line x1="414.60" y1="317.00" x2="414.60" y2="346.80" stroke="#474747" stroke-width="0.9" />
<line x1="470.70" y1="317.00" x2="470.70" y2="346.80" stroke="#474747" stroke-width="0.9" />
<polyline points="280.90,300.90 289.20,307.30 289.50,299.90 290.80,300.90 291.30,286.80 293.70,288.90 294.50,282.30 299.10,286.50 299.60,280.40 300.40,274.50 306.50,278.80 307.10,267.60 307.60,263.60 308.40,256.40 309.40,251.60 311.90,254.00 312.40,249.70 313.20,250.30 314.20,244.40 319.30,248.40 320.40,243.90 325.70,248.40 326.80,243.90 343.70,257.20 344.50,253.60 346.80,255.30 350.20,245.90 351.50,247.30 352.90,243.90 355.30,245.90 356.90,242.20 358.00,236.10 362.30,239.20 363.40,236.10 364.70,230.00 370.40,235.20 371.50,231.70 376.80,235.70 377.50,232.70 382.80,237.40 383.80,234.70 388.10,238.80 389.00,235.80 394.30,240.10 395.30,237.80 413.90,252.60 415.30,250.70 470.10,293.40 470.70,290.20 498.50,311.50" fill="none" stroke="#00ff00" stroke-width="1.5" stroke-linejoin="miter" stroke-miterlimit="3"/>
<line x1="277.00" y1="311.90" x2="280.60" y2="311.90" stroke="#222" stroke-width="1.1" />
<line x1="277.00" y1="295.66" x2="280.60" y2="295.66" stroke="#222" stroke-width="1.1" />
<line x1="277.00" y1="279.42" x2="280.60" y2="279.42" stroke="#222" stroke-width="1.1" />
<line x1="277.00" y1="263.18" x2="280.60" y2="263.18" stroke="#222" stroke-width="1.1" />
<line x1="277.00" y1="246.94" x2="280.60" y2="246.94" stroke="#222" stroke-width="1.1" />
<line x1="277.00" y1="230.70" x2="280.60" y2="230.70" stroke="#222" stroke-width="1.1" />
<text x="273.80" y="315.00" font-size="8.7" fill="#222" text-anchor="end" textLength="12.50" lengthAdjust="spacingAndGlyphs">0.0</text>
<text x="273.80" y="282.52" font-size="8.7" fill="#222" text-anchor="end" textLength="12.50" lengthAdjust="spacingAndGlyphs">0.2</text>
<text x="273.80" y="250.04" font-size="8.7" fill="#222" text-anchor="end" textLength="12.50" lengthAdjust="spacingAndGlyphs">0.4</text>
<path d="M280.60,226.70 H509.40 V353.50 H280.60 Z" fill="none" stroke="#111" stroke-width="1.35" stroke-linejoin="round"/>
<text x="255.00" y="310.60" font-size="10.6" fill="#222" textLength="64.60" lengthAdjust="spacingAndGlyphs" transform="rotate(-90 255.00 310.60)">Enrichment score</text>
<text x="279.80" y="220.60" font-size="10.2" fill="#222" textLength="227.40" lengthAdjust="spacingAndGlyphs">BROWN_MYELOID_CELL_DEVELOPMENT_UP</text>
<text x="430.80" y="244.00" font-size="8.2" fill="#222" textLength="41.10" lengthAdjust="spacingAndGlyphs">NES: 2.152</text>
<text x="430.80" y="257.20" font-size="8.2" fill="#222" textLength="48.50" lengthAdjust="spacingAndGlyphs">FDR q: 0.005</text>
<text x="280.30" y="364.60" font-size="9.3" fill="#222" font-style="italic" textLength="60.70" lengthAdjust="spacingAndGlyphs">pos. correlated</text>
<text x="415.30" y="364.60" font-size="9.3" fill="#222" font-style="italic" textLength="62.40" lengthAdjust="spacingAndGlyphs">neg. correlated</text>
<text x="245.70" y="205.20" font-size="13.5" fill="#000" font-weight="bold" stroke="#000" stroke-width="0.4">D</text>
<line x1="307.50" y1="413.50" x2="307.50" y2="503.30" stroke="#e0e0e0" stroke-width="0.8" stroke-dasharray="1.2 1.2"/>
<line x1="335.40" y1="413.50" x2="335.40" y2="503.30" stroke="#e0e0e0" stroke-width="0.8" stroke-dasharray="1.2 1.2"/>
<line x1="363.30" y1="413.50" x2="363.30" y2="503.30" stroke="#e0e0e0" stroke-width="0.8" stroke-dasharray="1.2 1.2"/>
<line x1="391.20" y1="413.50" x2="391.20" y2="503.30" stroke="#e0e0e0" stroke-width="0.8" stroke-dasharray="1.2 1.2"/>
<line x1="419.10" y1="413.50" x2="419.10" y2="503.30" stroke="#e0e0e0" stroke-width="0.8" stroke-dasharray="1.2 1.2"/>
<line x1="447.00" y1="413.50" x2="447.00" y2="503.30" stroke="#e0e0e0" stroke-width="0.8" stroke-dasharray="1.2 1.2"/>
<line x1="474.90" y1="413.50" x2="474.90" y2="503.30" stroke="#e0e0e0" stroke-width="0.8" stroke-dasharray="1.2 1.2"/>
<line x1="502.80" y1="413.50" x2="502.80" y2="503.30" stroke="#e0e0e0" stroke-width="0.8" stroke-dasharray="1.2 1.2"/>
<line x1="280.50" y1="483.03" x2="509.50" y2="483.03" stroke="#e0e0e0" stroke-width="0.8" stroke-dasharray="1.2 1.2"/>
<line x1="280.50" y1="474.45" x2="509.50" y2="474.45" stroke="#e0e0e0" stroke-width="0.8" stroke-dasharray="1.2 1.2"/>
<line x1="280.50" y1="465.88" x2="509.50" y2="465.88" stroke="#e0e0e0" stroke-width="0.8" stroke-dasharray="1.2 1.2"/>
<line x1="280.50" y1="457.30" x2="509.50" y2="457.30" stroke="#e0e0e0" stroke-width="0.8" stroke-dasharray="1.2 1.2"/>
<line x1="280.50" y1="448.73" x2="509.50" y2="448.73" stroke="#e0e0e0" stroke-width="0.8" stroke-dasharray="1.2 1.2"/>
<line x1="280.50" y1="440.15" x2="509.50" y2="440.15" stroke="#e0e0e0" stroke-width="0.8" stroke-dasharray="1.2 1.2"/>
<line x1="280.50" y1="431.58" x2="509.50" y2="431.58" stroke="#e0e0e0" stroke-width="0.8" stroke-dasharray="1.2 1.2"/>
<line x1="280.50" y1="423.00" x2="509.50" y2="423.00" stroke="#e0e0e0" stroke-width="0.8" stroke-dasharray="1.2 1.2"/>
<line x1="280.50" y1="414.43" x2="509.50" y2="414.43" stroke="#e0e0e0" stroke-width="0.8" stroke-dasharray="1.2 1.2"/>
<line x1="280.50" y1="491.60" x2="509.50" y2="491.60" stroke="#c6c6c6" stroke-width="1.0" />
<line x1="280.50" y1="503.30" x2="509.50" y2="503.30" stroke="#cfcfcf" stroke-width="1.0" />
<line x1="280.50" y1="533.30" x2="509.50" y2="533.30" stroke="#dddddd" stroke-width="0.6" />
<rect x="280.50" y="533.00" width="8.50" height="6.80" fill="#e8383c" />
<rect x="288.50" y="533.00" width="53.80" height="6.80" fill="#f64b50" />
<rect x="341.80" y="533.00" width="25.00" height="6.80" fill="#fa5668" />
<rect x="366.30" y="533.00" width="31.60" height="6.80" fill="#fe6e6e" />
<rect x="397.40" y="533.00" width="33.70" height="6.80" fill="#ffb0e0" />
<rect x="430.60" y="533.00" width="21.60" height="6.80" fill="#ccccf8" />
<rect x="451.70" y="533.00" width="14.40" height="6.80" fill="#b8b8ff" />
<rect x="465.60" y="533.00" width="7.20" height="6.80" fill="#6e6eff" />
<rect x="472.30" y="533.00" width="23.20" height="6.80" fill="#4a3cec" />
<rect x="495.00" y="533.00" width="3.80" height="6.80" fill="#1a00cc" />
<line x1="288.30" y1="503.80" x2="288.30" y2="533.00" stroke="#474747" stroke-width="0.9" />
<line x1="293.30" y1="503.80" x2="293.30" y2="533.00" stroke="#474747" stroke-width="0.9" />
<line x1="296.20" y1="503.80" x2="296.20" y2="533.00" stroke="#474747" stroke-width="0.9" />
<line x1="297.20" y1="503.80" x2="297.20" y2="533.00" stroke="#474747" stroke-width="0.9" />
<rect x="299.20" y="503.80" width="3.60" height="29.20" fill="#b0b0b0" />
<line x1="304.30" y1="503.80" x2="304.30" y2="533.00" stroke="#474747" stroke-width="0.9" />
<line x1="306.50" y1="503.80" x2="306.50" y2="533.00" stroke="#474747" stroke-width="0.9" />
<line x1="308.20" y1="503.80" x2="308.20" y2="533.00" stroke="#474747" stroke-width="0.9" />
<line x1="310.80" y1="503.80" x2="310.80" y2="533.00" stroke="#474747" stroke-width="0.9" />
<line x1="316.40" y1="503.80" x2="316.40" y2="533.00" stroke="#474747" stroke-width="0.9" />
<rect x="319.90" y="503.80" width="1.20" height="29.20" fill="#2a2a2a" />
<line x1="326.40" y1="503.80" x2="326.40" y2="533.00" stroke="#474747" stroke-width="0.9" />
<line x1="334.60" y1="503.80" x2="334.60" y2="533.00" stroke="#474747" stroke-width="0.9" />
<line x1="341.40" y1="503.80" x2="341.40" y2="533.00" stroke="#474747" stroke-width="0.9" />
<rect x="346.80" y="503.80" width="2.20" height="29.20" fill="#8e8e8e" />
<rect x="364.90" y="503.80" width="1.50" height="29.20" fill="#3a3a3a" />
<line x1="375.50" y1="503.80" x2="375.50" y2="533.00" stroke="#474747" stroke-width="0.9" />
<line x1="377.20" y1="503.80" x2="377.20" y2="533.00" stroke="#474747" stroke-width="0.9" />
<line x1="392.20" y1="503.80" x2="392.20" y2="533.00" stroke="#474747" stroke-width="0.9" />
<line x1="405.40" y1="503.80" x2="405.40" y2="533.00" stroke="#474747" stroke-width="0.9" />
<line x1="418.70" y1="503.80" x2="418.70" y2="533.00" stroke="#474747" stroke-width="0.9" />
<line x1="424.40" y1="503.80" x2="424.40" y2="533.00" stroke="#474747" stroke-width="0.9" />
<line x1="436.30" y1="503.80" x2="436.30" y2="533.00" stroke="#474747" stroke-width="0.9" />
<line x1="440.80" y1="503.80" x2="440.80" y2="533.00" stroke="#474747" stroke-width="0.9" />
<line x1="447.30" y1="503.80" x2="447.30" y2="533.00" stroke="#474747" stroke-width="0.9" />
<line x1="495.60" y1="503.80" x2="495.60" y2="533.00" stroke="#474747" stroke-width="0.9" />
<polyline points="280.80,491.80 287.20,497.50 288.00,489.00 288.80,481.60 292.50,484.30 293.40,477.10 295.20,478.40 296.00,472.00 297.30,465.90 298.40,459.80 300.00,453.50 301.20,453.90 302.00,448.30 303.50,448.30 304.30,443.50 305.60,443.50 306.80,438.80 308.00,438.80 308.80,434.00 310.00,434.80 311.20,429.20 316.40,432.70 318.30,427.60 319.60,429.20 320.70,419.90 325.50,422.80 326.60,418.30 334.30,424.70 335.10,420.40 340.40,425.20 341.30,420.70 346.50,424.60 347.40,421.10 348.90,417.40 363.80,429.70 366.20,419.50 374.60,425.70 375.40,423.10 376.90,420.80 391.50,432.30 392.60,430.00 404.60,440.00 405.80,438.00 419.10,448.00 420.10,446.40 422.50,449.40 424.10,448.40 435.30,457.50 436.70,456.10 439.90,458.90 441.30,457.50 446.00,461.50 447.40,459.50 494.80,497.90 495.90,489.20 498.90,491.20" fill="none" stroke="#00ff00" stroke-width="1.5" stroke-linejoin="miter" stroke-miterlimit="3"/>
<line x1="276.90" y1="500.18" x2="280.50" y2="500.18" stroke="#222" stroke-width="1.1" />
<line x1="276.90" y1="491.60" x2="280.50" y2="491.60" stroke="#222" stroke-width="1.1" />
<line x1="276.90" y1="483.03" x2="280.50" y2="483.03" stroke="#222" stroke-width="1.1" />
<line x1="276.90" y1="474.45" x2="280.50" y2="474.45" stroke="#222" stroke-width="1.1" />
<line x1="276.90" y1="465.88" x2="280.50" y2="465.88" stroke="#222" stroke-width="1.1" />
<line x1="276.90" y1="457.30" x2="280.50" y2="457.30" stroke="#222" stroke-width="1.1" />
<line x1="276.90" y1="448.73" x2="280.50" y2="448.73" stroke="#222" stroke-width="1.1" />
<line x1="276.90" y1="440.15" x2="280.50" y2="440.15" stroke="#222" stroke-width="1.1" />
<line x1="276.90" y1="431.58" x2="280.50" y2="431.58" stroke="#222" stroke-width="1.1" />
<line x1="276.90" y1="423.00" x2="280.50" y2="423.00" stroke="#222" stroke-width="1.1" />
<line x1="276.90" y1="414.43" x2="280.50" y2="414.43" stroke="#222" stroke-width="1.1" />
<text x="273.70" y="494.70" font-size="8.7" fill="#222" text-anchor="end" textLength="12.50" lengthAdjust="spacingAndGlyphs">0.0</text>
<text x="273.70" y="460.40" font-size="8.7" fill="#222" text-anchor="end" textLength="12.50" lengthAdjust="spacingAndGlyphs">0.2</text>
<text x="273.70" y="426.10" font-size="8.7" fill="#222" text-anchor="end" textLength="12.50" lengthAdjust="spacingAndGlyphs">0.4</text>
<path d="M280.50,413.50 H509.50 V539.80 H280.50 Z" fill="none" stroke="#111" stroke-width="1.35" stroke-linejoin="round"/>
<text x="255.00" y="491.10" font-size="10.6" fill="#222" textLength="64.80" lengthAdjust="spacingAndGlyphs" transform="rotate(-90 255.00 491.10)">Enrichment score</text>
<text x="311.00" y="407.60" font-size="10.2" fill="#222" textLength="164.60" lengthAdjust="spacingAndGlyphs">GAL_LEUKEMIC_STEM_CELL_DN</text>
<text x="418.10" y="429.60" font-size="8.2" fill="#222" textLength="41.10" lengthAdjust="spacingAndGlyphs">NES: 1.862</text>
<text x="418.10" y="442.70" font-size="8.2" fill="#222" textLength="48.90" lengthAdjust="spacingAndGlyphs">FDR q: 0.039</text>
<text x="281.80" y="553.90" font-size="9.3" fill="#222" font-style="italic" textLength="60.80" lengthAdjust="spacingAndGlyphs">pos. correlated</text>
<text x="411.00" y="554.00" font-size="9.3" fill="#222" font-style="italic" textLength="62.00" lengthAdjust="spacingAndGlyphs">neg. correlated</text>
<text x="246.00" y="396.00" font-size="13.5" fill="#000" font-weight="bold" stroke="#000" stroke-width="0.4">E</text>
<rect x="0.5" y="0.5" width="519" height="562" fill="none" stroke="#000" stroke-width="1"/>
</svg>
</body></html>
